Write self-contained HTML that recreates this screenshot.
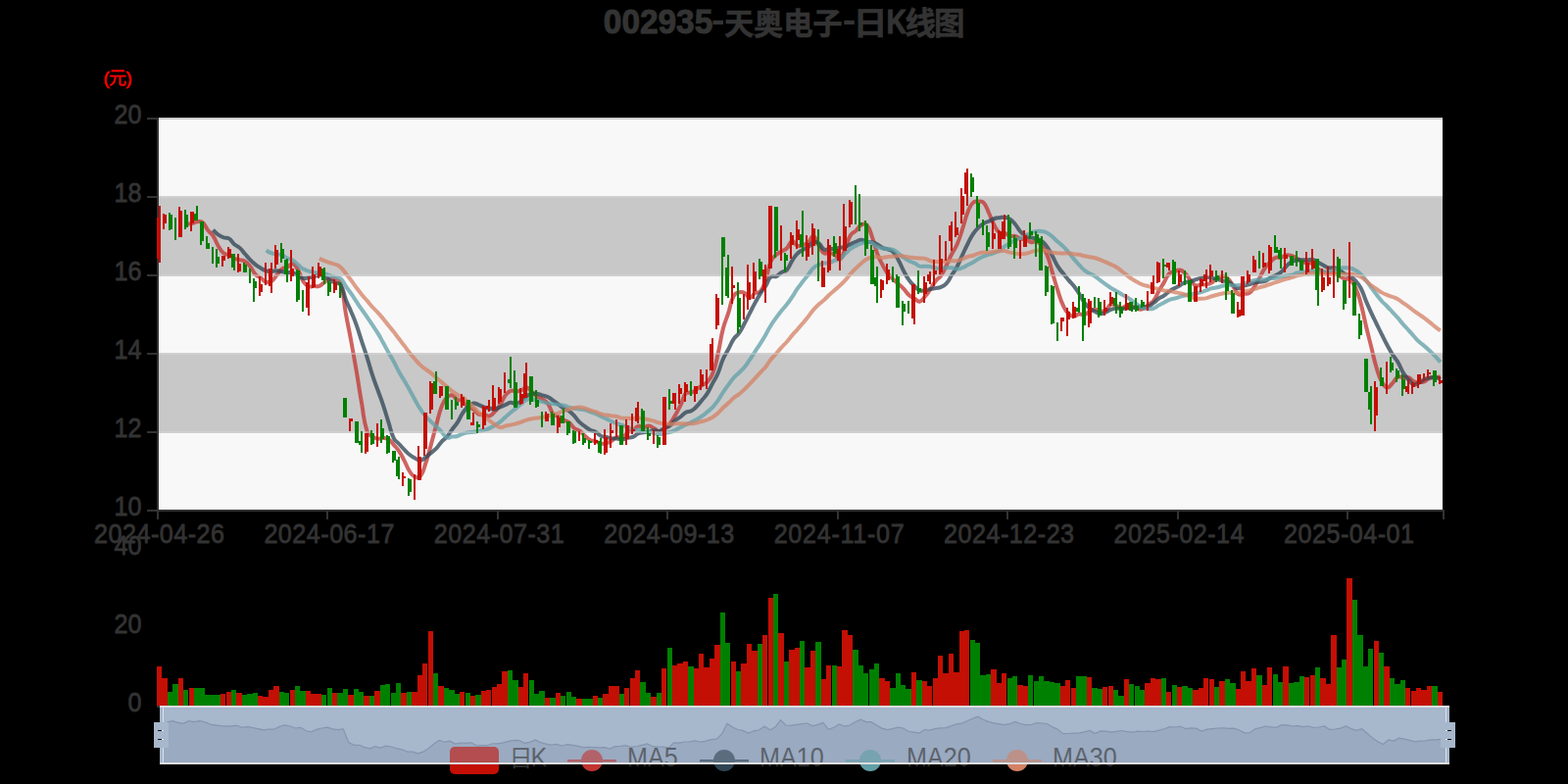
<!DOCTYPE html><html><head><meta charset="utf-8"><title>002935 K</title><style>html,body{margin:0;padding:0;background:#000;}svg{display:block}text{font-family:"Liberation Sans",sans-serif;}</style></head><body>
<svg width="1600" height="800" viewBox="0 0 1600 800">
<rect width="1600" height="800" fill="#000"/>
<defs><clipPath id="gc"><rect x="160" y="119" width="1312" height="403"/></clipPath><clipPath id="zin"><rect x="0" y="700" width="1600" height="80"/></clipPath><clipPath id="zout"><rect x="0" y="780" width="1600" height="20"/></clipPath></defs>
<g shape-rendering="crispEdges">
<rect x="161" y="122" width="1311" height="78" fill="#f8f8f8"/>
<rect x="161" y="200" width="1311" height="82" fill="#c8c8c8"/>
<rect x="161" y="282" width="1311" height="78" fill="#f8f8f8"/>
<rect x="161" y="360" width="1311" height="82" fill="#c8c8c8"/>
<rect x="161" y="442" width="1311" height="79" fill="#f8f8f8"/>
<rect x="161" y="120" width="1311" height="2" fill="#cccccc"/>
</g>
<g clip-path="url(#gc)" fill="none" stroke-width="4" stroke-opacity="0.77" stroke-linejoin="bevel">
<path d="M190.31,228.50C190.31,228.50 193.08,228.51 195.73,227.96C198.50,227.39 198.38,226.54 201.15,226.26C203.81,225.99 204.61,225.32 206.57,226.86C210.03,229.57 209.04,231.00 211.99,234.76C214.46,237.90 215.23,237.34 217.41,240.66C220.65,245.56 219.76,246.16 222.84,251.20C225.18,255.03 224.93,255.70 228.26,258.40C230.35,260.10 231.17,258.77 233.68,260.00C236.59,261.42 236.18,262.32 239.10,263.70C241.60,264.87 241.83,264.33 244.52,265.10C247.25,265.88 247.61,265.31 249.94,266.80C253.03,268.76 253.02,269.10 255.37,272.00C258.44,275.80 257.50,276.69 260.79,280.20C262.92,282.49 263.59,281.77 266.21,283.60C269.01,285.57 268.62,286.86 271.63,287.80C274.04,288.56 274.91,288.42 277.05,287.00C280.33,284.82 279.74,283.78 282.47,280.60C285.16,277.48 284.71,276.81 287.89,274.40C290.13,272.71 290.73,273.66 293.32,272.40C296.15,271.01 296.40,268.43 298.74,269.10C301.82,269.98 302.03,271.93 304.16,275.50C307.45,281.03 306.10,281.97 309.58,287.30C311.52,290.27 311.90,290.73 315.00,292.10C317.32,293.13 317.71,292.17 320.42,292.10C323.14,292.02 323.41,292.74 325.85,291.80C328.84,290.64 328.48,289.73 331.27,287.90C333.90,286.18 333.78,285.51 336.69,284.70C339.20,284.01 339.75,283.88 342.11,284.90C345.17,286.23 346.54,286.15 347.53,289.40C351.96,303.85 350.12,304.87 352.95,320.30C355.54,334.42 355.77,334.38 358.37,348.50C361.20,363.83 361.19,363.83 363.80,379.20C366.61,395.78 366.28,395.84 369.22,412.40C371.70,426.39 370.36,427.20 374.64,440.30C375.78,443.80 376.98,443.53 380.06,445.60C382.40,447.18 382.70,447.27 385.48,447.60C388.12,447.92 388.22,446.73 390.90,446.90C393.65,447.08 394.05,446.85 396.32,448.30C399.47,450.30 399.17,450.93 401.75,453.80C404.59,456.98 404.81,456.86 407.17,460.40C410.23,465.01 410.00,465.18 412.59,470.10C415.42,475.48 414.71,475.97 418.01,481.00C420.13,484.22 420.24,485.13 423.43,486.60C425.66,487.63 427.34,487.90 428.85,486.00C432.76,481.10 432.01,479.66 434.27,473.00C437.43,463.71 437.06,463.57 439.70,454.10C442.48,444.12 442.34,444.08 445.12,434.10C447.76,424.58 447.06,424.28 450.54,415.10C452.48,409.98 452.41,409.33 455.96,405.50C457.83,403.48 458.94,402.84 461.38,403.40C464.37,404.09 463.73,406.56 466.80,408.00C469.16,409.11 470.11,407.12 472.23,408.50C475.54,410.67 474.46,412.42 477.65,415.10C479.88,416.97 480.66,415.91 483.07,417.60C486.08,419.71 485.35,421.17 488.49,422.70C490.78,423.82 491.26,422.44 493.91,422.90C496.68,423.39 496.90,425.21 499.33,424.60C502.32,423.86 502.34,422.69 504.75,420.20C507.76,417.09 507.80,417.03 510.18,413.40C513.23,408.74 512.31,408.05 515.60,403.62C517.73,400.75 517.92,400.06 521.02,398.80C523.34,397.85 523.74,399.30 526.44,399.20C529.16,399.10 529.34,399.33 531.86,398.40C534.76,397.34 534.75,394.87 537.28,395.22C540.17,395.62 540.01,397.54 542.70,399.90C545.43,402.29 545.18,402.65 548.13,404.72C550.60,406.46 551.00,405.87 553.55,407.52C556.42,409.37 556.98,409.02 558.97,411.72C562.40,416.36 560.85,417.76 564.39,422.20C566.27,424.55 567.12,423.71 569.81,425.30C572.55,426.91 572.45,427.09 575.23,428.60C577.87,430.04 578.32,429.39 580.66,431.20C583.74,433.59 583.00,434.59 586.08,437.00C588.42,438.84 589.07,437.95 591.50,439.70C594.49,441.85 594.10,442.38 596.92,444.80C599.52,447.03 599.35,447.48 602.34,449.00C604.77,450.23 605.12,449.45 607.76,450.30C610.54,451.20 610.37,451.96 613.18,452.50C615.79,453.01 616.03,453.02 618.61,452.40C621.45,451.72 621.46,451.39 624.03,449.90C626.88,448.24 626.49,446.89 629.45,446.10C631.91,445.44 632.65,448.00 634.87,447.00C638.07,445.55 637.13,443.39 640.29,441.20C642.55,439.64 643.31,440.90 645.71,439.50C648.73,437.75 648.10,435.80 651.13,434.90C653.52,434.20 653.87,436.38 656.56,436.30C659.29,436.21 659.34,434.37 661.98,434.56C664.76,434.77 664.75,435.72 667.40,437.10C670.17,438.54 670.02,439.97 672.82,440.20C675.44,440.42 675.94,439.70 678.24,438.00C681.36,435.70 681.30,435.37 683.66,432.20C686.72,428.11 686.52,427.92 689.09,423.48C691.94,418.54 692.02,418.57 694.51,413.44C697.44,407.40 696.07,405.70 699.93,401.14C701.49,399.30 702.86,401.54 705.35,400.64C708.28,399.59 708.11,399.02 710.77,397.24C713.53,395.40 713.45,395.28 716.19,393.40C718.88,391.56 719.45,392.15 721.61,389.80C724.88,386.25 725.28,386.13 727.04,381.60C730.70,372.13 730.12,371.79 732.46,361.80C735.54,348.64 734.55,348.38 737.88,335.30C739.97,327.08 740.68,327.28 743.30,319.20C746.11,310.53 744.72,309.52 748.72,301.80C750.14,299.07 751.20,299.11 754.14,298.30C756.62,297.61 757.29,297.60 759.57,298.80C762.71,300.45 762.24,303.92 764.99,304.00C767.66,304.07 767.36,300.96 770.41,299.10C772.78,297.66 774.17,299.45 775.83,297.40C779.59,292.75 779.12,291.77 781.25,285.70C784.54,276.32 782.86,275.51 786.67,266.50C788.28,262.71 789.03,262.90 792.09,260.10C794.45,257.95 794.79,258.33 797.52,256.60C800.21,254.88 800.67,255.39 802.94,253.20C806.10,250.14 805.35,246.77 808.36,246.10C810.77,245.57 810.71,249.72 813.78,250.80C816.13,251.62 816.58,250.67 819.20,249.90C822.01,249.07 822.40,249.41 824.62,247.60C827.82,245.01 827.66,240.48 830.04,241.10C833.08,241.88 832.60,245.85 835.47,250.40C838.02,254.45 837.43,255.91 840.89,258.30C842.85,259.66 843.70,257.47 846.31,257.90C849.12,258.37 849.25,258.61 851.73,260.10C854.67,261.86 855.20,265.61 857.15,264.40C860.62,262.26 860.09,259.00 862.57,253.40C865.52,246.75 864.34,245.96 867.99,239.90C869.76,236.96 870.87,237.82 873.42,235.40C876.29,232.67 875.62,231.38 878.84,229.60C881.04,228.38 882.65,227.70 884.26,229.40C888.08,233.45 887.43,235.07 889.68,241.10C892.86,249.62 891.94,249.97 895.10,258.50C897.36,264.57 897.53,264.55 900.52,270.30C902.95,274.95 902.83,275.11 905.95,279.30C908.25,282.41 908.57,282.19 911.37,284.90C913.99,287.44 914.09,287.34 916.79,289.80C919.51,292.29 919.69,292.12 922.21,294.80C925.11,297.90 924.49,298.59 927.63,301.36C929.92,303.37 930.37,302.80 933.05,304.36C935.80,305.95 935.98,308.07 938.47,307.66C941.40,307.17 941.47,305.36 943.90,302.56C946.89,299.11 946.73,298.94 949.32,295.16C952.15,291.01 951.65,290.62 954.74,286.70C957.07,283.74 958.01,284.47 960.16,281.40C963.43,276.72 963.02,276.37 965.58,271.20C968.44,265.42 968.09,265.25 971.00,259.50C973.51,254.55 974.21,254.88 976.42,249.80C979.64,242.43 979.31,242.26 981.85,234.60C984.73,225.91 983.93,225.59 987.27,217.10C989.35,211.79 989.05,210.86 992.69,207.00C994.47,205.11 995.38,205.70 998.11,205.60C1000.80,205.50 1001.80,204.78 1003.53,206.60C1007.22,210.48 1006.44,211.71 1008.95,217.00C1011.86,223.11 1011.20,223.46 1014.38,229.40C1016.62,233.61 1016.34,234.59 1019.80,237.30C1021.76,238.84 1022.67,237.08 1025.22,237.90C1028.09,238.83 1027.76,240.00 1030.64,240.80C1033.18,241.50 1033.50,240.24 1036.06,240.90C1038.92,241.64 1038.64,242.68 1041.48,243.60C1044.06,244.43 1044.34,243.55 1046.90,244.40C1049.76,245.35 1049.47,246.65 1052.33,247.20C1054.89,247.70 1055.40,245.64 1057.75,246.50C1060.82,247.64 1061.01,248.39 1063.17,251.20C1066.43,255.44 1066.61,255.59 1068.59,260.60C1072.03,269.29 1071.30,269.60 1074.01,278.60C1076.72,287.60 1076.51,287.67 1079.43,296.60C1081.93,304.22 1081.50,304.47 1084.86,311.70C1086.93,316.17 1086.93,316.54 1090.28,320.00C1092.35,322.14 1092.94,322.77 1095.70,322.90C1098.36,323.02 1098.29,321.00 1101.12,320.50C1103.71,320.05 1104.04,321.65 1106.54,321.00C1109.46,320.25 1109.12,319.09 1111.96,317.70C1114.55,316.44 1114.66,315.75 1117.38,315.70C1120.08,315.65 1120.04,317.27 1122.81,317.50C1125.46,317.72 1126.02,317.98 1128.23,316.60C1131.44,314.58 1130.44,312.12 1133.65,310.70C1135.86,309.72 1136.45,310.96 1139.07,311.80C1141.87,312.71 1141.80,314.25 1144.49,314.20C1147.22,314.15 1147.07,312.10 1149.91,311.60C1152.49,311.15 1152.77,311.47 1155.33,312.30C1158.19,313.22 1157.89,314.33 1160.76,315.10C1163.31,315.78 1163.77,316.09 1166.18,315.20C1169.19,314.09 1168.90,313.17 1171.60,311.10C1174.32,309.02 1174.97,309.56 1177.02,306.90C1180.39,302.51 1179.62,301.89 1182.44,297.00C1185.04,292.49 1185.17,292.56 1187.86,288.10C1190.60,283.56 1189.78,282.59 1193.29,279.00C1195.20,277.04 1195.96,277.89 1198.71,277.00C1201.38,276.14 1201.61,275.01 1204.13,275.50C1207.04,276.06 1207.28,276.84 1209.55,279.10C1212.70,282.24 1211.99,282.95 1214.97,286.30C1217.41,289.05 1217.29,290.13 1220.39,291.30C1222.71,292.18 1223.09,290.68 1225.81,290.40C1228.51,290.13 1228.61,290.73 1231.24,290.20C1234.03,289.63 1234.23,289.68 1236.66,288.20C1239.65,286.38 1239.08,285.40 1242.08,283.60C1244.50,282.15 1244.83,281.58 1247.50,281.70C1250.25,281.83 1250.87,282.12 1252.92,284.10C1256.29,287.35 1255.64,288.12 1258.34,292.16C1261.06,296.22 1260.28,297.88 1263.76,300.30C1265.71,301.65 1266.48,300.02 1269.19,299.70C1271.90,299.37 1272.47,300.40 1274.61,299.00C1277.89,296.85 1277.67,296.05 1280.03,292.60C1283.09,288.12 1282.77,287.89 1285.45,283.14C1288.19,278.29 1287.74,277.97 1290.87,273.40C1293.16,270.05 1293.37,270.13 1296.29,267.30C1298.79,264.88 1298.66,264.17 1301.72,262.90C1304.08,261.92 1304.56,263.42 1307.14,262.80C1309.98,262.12 1309.73,260.77 1312.56,260.30C1315.15,259.87 1315.40,260.21 1317.98,261.00C1320.82,261.86 1320.82,262.08 1323.40,263.60C1326.24,265.28 1325.85,266.17 1328.82,267.40C1331.27,268.42 1331.56,267.60 1334.24,268.10C1336.98,268.60 1337.32,268.06 1339.67,269.40C1342.74,271.16 1342.22,272.05 1345.09,274.30C1347.64,276.30 1347.59,276.58 1350.51,277.90C1353.01,279.03 1353.20,279.07 1355.93,279.20C1358.62,279.32 1358.84,277.82 1361.35,278.40C1364.26,279.07 1364.01,280.14 1366.77,281.70C1369.43,283.19 1369.35,283.50 1372.19,284.50C1374.77,285.40 1375.64,283.87 1377.62,285.50C1381.06,288.32 1381.05,289.08 1383.04,293.40C1386.48,300.88 1386.24,301.11 1388.46,309.10C1391.66,320.66 1391.07,320.82 1393.88,332.50C1396.49,343.37 1396.57,343.35 1399.30,354.20C1402.00,364.90 1401.52,365.06 1404.72,375.60C1406.94,382.91 1406.54,383.32 1410.14,389.90C1411.96,393.22 1412.72,395.11 1415.57,395.40C1418.14,395.66 1418.51,393.44 1420.99,391.00C1423.93,388.09 1423.13,386.48 1426.41,384.70C1428.55,383.53 1429.12,385.02 1431.83,385.10C1434.54,385.17 1434.86,384.09 1437.25,385.00C1440.28,386.14 1439.66,387.78 1442.67,389.20C1445.09,390.33 1445.38,390.07 1448.10,390.10C1450.80,390.12 1451.03,390.29 1453.52,389.30C1456.45,388.14 1456.00,386.91 1458.94,385.80C1461.42,384.86 1461.65,385.50 1464.36,385.20C1467.07,384.90 1469.78,384.60 1469.78,384.60" stroke="#c23531"/>
<path d="M217.41,234.58C217.41,234.58 219.86,237.46 222.84,239.58C225.29,241.33 225.42,241.32 228.26,242.33C230.84,243.25 231.45,242.01 233.68,243.43C236.87,245.46 236.13,246.64 239.10,249.23C241.55,251.36 242.11,250.71 244.52,252.88C247.54,255.59 247.24,255.93 249.94,259.00C252.66,262.09 252.49,262.26 255.37,265.20C257.91,267.81 257.91,267.86 260.79,270.10C263.34,272.09 263.42,272.01 266.21,273.65C268.84,275.19 268.76,275.59 271.63,276.45C274.19,277.22 274.34,276.94 277.05,276.90C279.77,276.86 279.78,276.20 282.47,276.30C285.20,276.40 285.17,276.87 287.89,277.30C290.59,277.72 290.60,277.71 293.32,278.00C296.02,278.29 296.18,277.68 298.74,278.45C301.60,279.31 301.44,279.87 304.16,281.25C306.86,282.62 306.73,283.42 309.58,283.95C312.15,284.42 312.30,283.67 315.00,283.25C317.72,282.82 317.76,282.94 320.42,282.25C323.18,281.54 323.10,280.59 325.85,280.45C328.52,280.31 328.85,280.46 331.27,281.70C334.27,283.24 333.78,284.17 336.69,286.00C339.20,287.57 339.38,287.30 342.11,288.50C344.80,289.68 346.09,288.42 347.53,290.75C351.51,297.19 349.97,298.51 352.95,306.05C355.39,312.23 355.81,312.07 358.37,318.20C361.23,325.02 361.32,324.99 363.80,331.95C366.74,340.22 366.47,340.31 369.22,348.65C371.89,356.76 372.06,356.71 374.64,364.85C377.49,373.86 377.13,373.97 380.06,382.95C382.55,390.57 382.76,390.50 385.48,398.05C388.18,405.55 388.37,405.49 390.90,413.05C393.79,421.64 393.57,421.71 396.32,430.35C398.99,438.71 398.03,439.28 401.75,447.05C403.45,450.61 404.44,450.04 407.17,453.00C409.87,455.94 409.78,456.02 412.59,458.85C415.21,461.49 415.11,461.65 418.01,463.95C420.53,465.95 420.61,465.90 423.43,467.45C426.03,468.88 426.22,470.08 428.85,469.90C431.64,469.71 431.73,468.53 434.27,466.70C437.15,464.63 436.98,464.39 439.70,462.10C442.40,459.82 442.67,460.09 445.12,457.55C448.09,454.46 447.63,454.02 450.54,450.85C453.05,448.12 453.55,448.56 455.96,445.75C458.97,442.24 458.62,441.94 461.38,438.20C464.05,434.59 464.39,434.82 466.80,431.05C469.81,426.37 469.11,425.89 472.23,421.30C474.53,417.91 474.61,417.83 477.65,415.10C480.03,412.95 480.17,412.10 483.07,411.55C485.59,411.07 485.85,412.10 488.49,413.05C491.27,414.05 491.11,414.54 493.91,415.45C496.53,416.29 496.62,416.00 499.33,416.55C502.04,417.10 502.12,417.91 504.75,417.65C507.54,417.38 507.48,416.62 510.18,415.50C512.90,414.37 512.88,414.32 515.60,413.16C518.31,412.00 518.22,411.18 521.02,410.85C523.64,410.55 523.85,412.27 526.44,411.90C529.27,411.50 529.43,411.01 531.86,409.30C534.85,407.21 534.29,406.39 537.28,404.31C539.71,402.62 539.86,402.43 542.70,401.76C545.28,401.15 545.47,401.37 548.13,401.76C550.89,402.17 550.84,402.54 553.55,403.36C556.27,404.19 556.45,403.82 558.97,405.06C561.87,406.49 561.71,406.84 564.39,408.71C567.13,410.61 567.12,410.63 569.81,412.60C572.54,414.60 572.37,414.88 575.23,416.66C577.79,418.26 578.21,417.62 580.66,419.36C583.63,421.47 583.56,421.67 586.08,424.36C588.99,427.47 588.48,427.97 591.50,430.95C593.90,433.32 594.17,433.06 596.92,435.05C599.59,436.98 599.45,437.28 602.34,438.80C604.87,440.13 605.26,439.38 607.76,440.75C610.69,442.35 610.22,443.30 613.18,444.75C615.64,445.95 615.90,445.40 618.61,446.05C621.32,446.70 621.28,446.97 624.03,447.35C626.70,447.72 626.76,447.23 629.45,447.55C632.19,447.88 632.20,448.82 634.87,448.65C637.62,448.47 637.53,447.54 640.29,446.85C642.95,446.19 643.23,446.97 645.71,445.95C648.65,444.75 648.22,443.68 651.13,442.40C653.64,441.30 653.82,441.61 656.56,441.20C659.24,440.80 659.32,441.28 661.98,440.78C664.74,440.26 664.64,439.39 667.40,439.15C670.06,438.92 670.32,440.47 672.82,439.85C675.74,439.12 675.41,437.91 678.24,436.45C680.83,435.11 681.29,435.87 683.66,434.25C686.72,432.16 686.19,431.41 689.09,429.02C691.62,426.92 691.90,427.28 694.51,425.27C697.32,423.10 696.89,422.34 699.93,420.67C702.31,419.36 702.96,420.63 705.35,419.32C708.39,417.65 708.27,417.23 710.77,414.72C713.69,411.79 713.55,411.63 716.19,408.44C718.97,405.08 719.29,405.28 721.61,401.62C724.71,396.75 724.31,396.49 727.04,391.37C729.74,386.29 730.18,386.49 732.46,381.22C735.60,373.94 734.72,373.54 737.88,366.27C740.14,361.08 740.64,361.31 743.30,356.30C746.07,351.08 745.49,350.68 748.72,345.80C750.91,342.51 751.87,343.20 754.14,339.95C757.29,335.45 756.96,335.18 759.57,330.30C762.38,325.03 762.26,324.97 764.99,319.65C767.68,314.39 767.60,314.35 770.41,309.15C773.02,304.32 772.90,304.23 775.83,299.60C778.32,295.66 778.74,295.93 781.25,292.00C784.16,287.45 783.07,285.96 786.67,282.65C788.49,280.98 789.69,283.11 792.09,282.05C795.11,280.71 794.62,279.65 797.52,277.85C800.04,276.28 801.01,277.43 802.94,275.30C806.43,271.45 805.40,270.44 808.36,265.90C810.82,262.11 810.63,261.82 813.78,258.65C816.05,256.37 816.41,256.69 819.20,255.00C821.83,253.41 822.15,253.89 824.62,252.10C827.57,249.96 826.95,248.25 830.04,247.15C832.37,246.32 833.30,246.77 835.47,248.25C838.72,250.47 837.62,252.85 840.89,254.55C843.04,255.67 843.59,254.08 846.31,253.90C849.01,253.73 849.05,254.13 851.73,253.85C854.47,253.56 854.43,253.24 857.15,252.75C859.85,252.26 860.01,252.76 862.57,251.90C865.43,250.94 865.25,250.43 867.99,249.10C870.67,247.80 870.65,247.73 873.42,246.65C876.07,245.61 876.15,244.79 878.84,244.85C881.57,244.91 881.46,246.28 884.26,246.90C886.88,247.48 887.05,246.69 889.68,247.25C892.47,247.84 892.56,247.89 895.10,249.20C897.98,250.69 897.62,251.44 900.52,252.85C903.04,254.07 903.33,253.41 905.95,254.45C908.75,255.56 909.31,255.06 911.37,257.15C914.73,260.56 914.38,261.13 916.79,265.45C919.81,270.88 919.29,271.16 922.21,276.65C924.71,281.35 924.55,281.51 927.63,285.83C929.97,289.10 930.15,289.03 933.05,291.83C935.57,294.26 935.42,295.05 938.47,296.28C940.84,297.23 941.22,296.50 943.90,296.18C946.64,295.85 946.59,295.52 949.32,294.98C952.02,294.44 952.04,294.55 954.74,294.03C957.46,293.50 957.65,293.95 960.16,292.88C963.07,291.65 963.46,291.75 965.58,289.43C968.88,285.82 968.31,285.24 971.00,281.03C973.73,276.77 974.05,276.94 976.42,272.48C979.47,266.75 979.09,266.55 981.85,260.65C984.52,254.93 984.43,254.89 987.27,249.25C989.85,244.11 989.57,243.90 992.69,239.10C994.99,235.55 995.13,235.55 998.11,232.55C1000.55,230.10 1000.61,230.02 1003.53,228.20C1006.03,226.65 1006.26,227.03 1008.95,225.80C1011.68,224.56 1011.56,224.20 1014.38,223.25C1016.98,222.37 1017.06,222.53 1019.80,222.15C1022.48,221.78 1022.59,221.37 1025.22,221.75C1028.01,222.15 1028.29,222.14 1030.64,223.70C1033.71,225.74 1033.63,226.08 1036.06,228.95C1039.05,232.48 1038.38,233.10 1041.48,236.50C1043.80,239.05 1043.92,239.19 1046.90,240.85C1049.34,242.21 1049.58,241.84 1052.33,242.55C1055.00,243.24 1055.13,242.81 1057.75,243.65C1060.55,244.56 1060.88,244.27 1063.17,246.05C1066.30,248.49 1066.27,248.79 1068.59,252.10C1071.69,256.52 1071.41,256.74 1074.01,261.50C1076.83,266.64 1076.37,266.92 1079.43,271.90C1081.79,275.72 1082.06,275.57 1084.86,279.10C1087.48,282.42 1087.52,282.39 1090.28,285.60C1092.94,288.71 1093.19,288.52 1095.70,291.75C1098.61,295.49 1098.57,295.55 1101.12,299.55C1103.99,304.07 1103.44,304.46 1106.54,308.80C1108.86,312.04 1108.92,312.16 1111.96,314.70C1114.34,316.69 1114.59,316.43 1117.38,317.85C1120.01,319.18 1120.04,320.02 1122.81,320.20C1125.46,320.37 1125.61,319.60 1128.23,318.55C1131.03,317.43 1130.82,316.84 1133.65,315.85C1136.24,314.94 1136.33,314.98 1139.07,314.75C1141.75,314.53 1141.78,315.00 1144.49,314.95C1147.21,314.90 1147.20,314.68 1149.91,314.55C1152.62,314.43 1152.68,314.85 1155.33,314.45C1158.10,314.03 1158.00,313.14 1160.76,312.90C1163.42,312.67 1163.47,313.56 1166.18,313.50C1168.90,313.44 1169.10,313.63 1171.60,312.65C1174.52,311.51 1174.45,311.14 1177.02,309.25C1179.87,307.14 1179.55,306.69 1182.44,304.65C1184.97,302.87 1185.32,303.37 1187.86,301.60C1190.74,299.60 1190.41,299.10 1193.29,297.10C1195.83,295.33 1195.97,295.54 1198.71,294.05C1201.40,292.59 1201.45,292.68 1204.13,291.20C1206.87,289.68 1206.66,289.12 1209.55,288.05C1212.08,287.12 1212.33,287.91 1214.97,287.20C1217.76,286.46 1217.64,286.04 1220.39,285.15C1223.06,284.29 1223.07,284.28 1225.81,283.70C1228.49,283.13 1228.52,282.86 1231.24,282.85C1233.94,282.84 1233.97,283.13 1236.66,283.65C1239.39,284.18 1239.38,284.24 1242.08,284.95C1244.80,285.67 1244.75,285.92 1247.50,286.50C1250.17,287.07 1250.48,286.20 1252.92,287.25C1255.90,288.54 1255.53,289.37 1258.34,291.18C1260.96,292.87 1261.01,294.13 1263.76,294.25C1266.43,294.37 1266.37,292.66 1269.19,291.65C1271.79,290.71 1271.95,291.16 1274.61,290.35C1277.37,289.51 1277.24,289.04 1280.03,288.35C1282.66,287.69 1282.74,288.02 1285.45,287.65C1288.16,287.27 1288.37,287.81 1290.87,286.85C1293.79,285.73 1293.50,285.02 1296.29,283.50C1298.92,282.07 1299.08,282.36 1301.72,280.95C1304.50,279.46 1304.76,279.73 1307.14,277.70C1310.18,275.11 1309.67,274.52 1312.56,271.72C1315.09,269.27 1314.98,268.93 1317.98,267.20C1320.40,265.80 1320.63,265.97 1323.40,265.45C1326.05,264.95 1326.11,265.15 1328.82,265.15C1331.53,265.15 1331.54,265.52 1334.24,265.45C1336.96,265.37 1337.11,264.33 1339.67,264.85C1342.53,265.43 1342.41,266.19 1345.09,267.65C1347.83,269.14 1347.74,269.31 1350.51,270.75C1353.16,272.13 1353.08,272.64 1355.93,273.30C1358.51,273.89 1358.75,272.71 1361.35,273.25C1364.17,273.84 1364.23,274.11 1366.77,275.55C1369.65,277.18 1369.32,277.77 1372.19,279.40C1374.74,280.84 1375.16,280.14 1377.62,281.70C1380.58,283.59 1380.68,283.68 1383.04,286.30C1386.10,289.70 1386.34,289.69 1388.46,293.75C1391.77,300.09 1391.07,300.47 1393.88,307.10C1396.49,313.27 1396.49,313.27 1399.30,319.35C1401.91,325.00 1402.00,324.95 1404.72,330.55C1407.42,336.10 1407.38,336.12 1410.14,341.65C1412.81,346.97 1412.74,347.01 1415.57,352.25C1418.16,357.06 1418.07,357.13 1420.99,361.75C1423.50,365.73 1424.04,365.39 1426.41,369.45C1429.47,374.69 1428.70,375.16 1431.83,380.35C1434.13,384.16 1434.26,384.16 1437.25,387.45C1439.69,390.13 1439.63,391.43 1442.67,392.30C1445.06,392.98 1445.56,391.79 1448.10,390.55C1450.98,389.14 1450.62,388.36 1453.52,387.00C1456.04,385.81 1456.18,385.93 1458.94,385.45C1461.60,384.98 1461.72,384.75 1464.36,385.10C1467.14,385.47 1469.78,386.90 1469.78,386.90" stroke="#2f4554"/>
<path d="M271.63,255.52C271.63,255.52 274.21,257.25 277.05,258.24C279.64,259.15 279.76,258.78 282.47,259.31C285.18,259.85 285.37,259.36 287.89,260.37C290.79,261.51 290.49,262.23 293.32,263.62C295.91,264.88 296.29,264.19 298.74,265.67C301.71,267.45 301.45,267.90 304.16,270.12C306.87,272.35 306.62,272.78 309.58,274.57C312.04,276.06 312.23,275.81 315.00,276.68C317.65,277.50 317.68,277.50 320.42,277.95C323.10,278.39 323.14,278.11 325.85,278.45C328.57,278.79 328.61,278.64 331.27,279.30C334.04,279.99 333.97,280.25 336.69,281.15C339.39,282.05 339.38,282.09 342.11,282.90C344.80,283.70 345.52,282.64 347.53,284.38C350.95,287.32 350.19,288.35 352.95,292.25C355.62,296.02 355.75,295.93 358.37,299.73C361.17,303.78 361.06,303.85 363.80,307.95C366.48,311.97 366.46,311.98 369.22,315.95C371.88,319.78 371.99,319.71 374.64,323.55C377.41,327.58 377.35,327.62 380.06,331.70C382.77,335.79 382.93,335.69 385.48,339.88C388.36,344.60 388.22,344.69 390.90,349.52C393.64,354.46 393.57,354.50 396.32,359.43C398.99,364.19 399.16,364.10 401.75,368.90C404.58,374.15 404.28,374.31 407.17,379.52C409.71,384.12 409.92,384.00 412.59,388.52C415.35,393.21 415.37,393.20 418.01,397.95C420.79,402.96 420.64,403.05 423.43,408.05C426.06,412.76 425.93,412.85 428.85,417.38C431.35,421.24 431.29,421.33 434.27,424.82C436.72,427.68 436.98,427.45 439.70,430.07C442.40,432.69 442.42,432.68 445.12,435.30C447.84,437.94 447.89,437.89 450.54,440.60C453.31,443.44 452.75,444.92 455.96,446.40C458.18,447.42 458.67,445.96 461.38,445.60C464.09,445.24 464.20,445.67 466.80,444.95C469.62,444.18 469.44,443.57 472.23,442.62C474.86,441.73 474.90,441.76 477.65,441.27C480.32,440.81 480.37,441.07 483.07,440.73C485.79,440.37 485.79,440.36 488.49,439.88C491.21,439.39 491.24,439.47 493.91,438.77C496.66,438.06 496.72,438.14 499.33,437.05C502.14,435.88 502.13,435.80 504.75,434.25C507.56,432.59 507.62,432.64 510.18,430.62C513.05,428.36 512.86,428.12 515.60,425.68C518.28,423.29 518.26,423.26 521.02,420.95C523.68,418.72 523.74,418.78 526.44,416.60C529.16,414.41 529.14,414.38 531.86,412.20C534.56,410.05 534.25,409.27 537.28,407.93C539.67,406.87 540.02,407.24 542.70,407.41C545.44,407.58 545.42,407.97 548.13,408.61C550.85,409.24 550.84,409.27 553.55,409.96C556.26,410.64 556.23,410.81 558.97,411.36C561.65,411.89 561.68,411.72 564.39,412.11C567.10,412.49 567.11,412.47 569.81,412.88C572.53,413.29 572.58,413.08 575.23,413.75C578.00,414.46 577.90,414.85 580.66,415.63C583.32,416.39 583.35,416.33 586.08,416.83C588.77,417.33 588.79,417.24 591.50,417.63C594.21,418.02 594.27,417.76 596.92,418.41C599.69,419.08 599.62,419.36 602.34,420.28C605.04,421.19 605.15,420.94 607.76,422.06C610.57,423.25 610.44,423.56 613.18,424.91C615.86,426.22 615.91,426.12 618.61,427.38C621.33,428.65 621.27,428.78 624.03,429.98C626.70,431.14 626.72,431.09 629.45,432.11C632.14,433.11 632.14,433.12 634.87,434.00C637.56,434.87 637.69,434.54 640.29,435.61C643.11,436.76 642.84,437.62 645.71,438.45C648.26,439.18 648.46,438.34 651.13,438.73C653.88,439.12 653.82,439.49 656.56,440.00C659.24,440.51 659.29,440.28 661.98,440.76C664.71,441.26 664.68,441.40 667.40,441.95C670.10,442.49 670.11,442.96 672.82,442.95C675.53,442.94 675.53,442.41 678.24,441.90C680.95,441.39 681.02,441.65 683.66,440.90C686.44,440.11 686.44,440.02 689.09,438.84C691.86,437.60 691.79,437.44 694.51,436.06C697.22,434.68 697.19,434.62 699.93,433.31C702.61,432.02 702.68,432.18 705.35,430.86C708.11,429.50 708.11,429.49 710.77,427.96C713.53,426.37 713.58,426.43 716.19,424.61C719.01,422.64 718.97,422.58 721.61,420.39C724.39,418.08 724.57,418.23 727.04,415.61C729.99,412.46 729.96,412.37 732.46,408.83C735.38,404.70 735.06,404.47 737.88,400.26C740.48,396.38 740.53,396.42 743.30,392.66C745.95,389.06 745.78,388.89 748.72,385.53C751.20,382.71 751.47,382.96 754.14,380.31C756.89,377.59 757.11,377.78 759.57,374.81C762.53,371.22 762.36,371.06 764.99,367.19C767.79,363.05 767.67,362.97 770.41,358.79C773.10,354.69 773.20,354.76 775.83,350.61C778.62,346.20 778.63,346.20 781.25,341.69C784.05,336.86 783.74,336.67 786.67,331.94C789.16,327.91 789.30,327.99 792.09,324.16C794.72,320.56 794.74,320.56 797.52,317.07C800.16,313.76 800.36,313.91 802.94,310.55C805.78,306.84 805.74,306.80 808.36,302.93C811.16,298.76 810.92,298.59 813.78,294.48C816.34,290.79 816.44,290.86 819.20,287.32C821.86,283.93 821.98,284.03 824.62,280.62C827.40,277.05 826.85,276.47 830.04,273.38C832.27,271.22 832.60,271.39 835.47,270.12C838.02,269.00 838.13,269.15 840.89,268.60C843.56,268.07 843.69,268.64 846.31,267.98C849.11,267.27 849.00,266.85 851.73,265.85C854.42,264.87 854.80,265.53 857.15,264.02C860.22,262.06 859.85,261.45 862.57,258.90C865.27,256.37 865.05,256.07 867.99,253.88C870.47,252.03 870.64,252.21 873.42,250.82C876.06,249.51 876.06,249.45 878.84,248.47C881.48,247.55 881.51,247.21 884.26,247.03C886.94,246.85 887.27,246.67 889.68,247.75C892.69,249.10 892.13,250.33 895.10,251.88C897.55,253.15 897.78,252.80 900.52,253.38C903.20,253.94 903.24,253.76 905.95,254.15C908.66,254.54 908.90,253.92 911.37,254.95C914.32,256.18 914.13,256.74 916.79,258.68C919.56,260.70 919.40,260.92 922.21,262.88C924.82,264.70 924.79,264.81 927.63,266.24C930.22,267.54 930.46,267.06 933.05,268.34C935.88,269.73 935.56,270.68 938.47,271.59C940.98,272.37 941.19,271.59 943.90,271.72C946.61,271.84 946.64,271.66 949.32,272.09C952.07,272.53 951.99,273.04 954.74,273.44C957.41,273.83 957.45,273.70 960.16,273.67C962.87,273.63 962.87,273.40 965.58,273.29C968.29,273.18 968.33,272.93 971.00,273.24C973.75,273.56 973.71,274.56 976.42,274.56C979.14,274.56 979.25,274.21 981.85,273.24C984.67,272.19 984.57,271.92 987.27,270.54C989.99,269.14 990.03,269.20 992.69,267.69C995.45,266.12 995.34,265.92 998.11,264.37C1000.76,262.87 1000.73,262.74 1003.53,261.59C1006.15,260.52 1006.26,260.79 1008.95,259.92C1011.68,259.03 1011.70,259.08 1014.38,258.06C1017.12,257.02 1017.32,257.32 1019.80,255.79C1022.74,253.98 1022.38,253.41 1025.22,251.39C1027.80,249.56 1027.93,249.74 1030.64,248.09C1033.35,246.44 1033.22,246.17 1036.06,244.80C1038.64,243.56 1038.86,244.04 1041.48,242.88C1044.28,241.63 1044.15,241.33 1046.90,239.97C1049.57,238.67 1049.55,238.59 1052.33,237.55C1054.97,236.56 1054.98,236.34 1057.75,235.93C1060.40,235.53 1060.53,235.50 1063.17,235.93C1065.95,236.37 1066.12,236.33 1068.59,237.68C1071.55,239.28 1071.41,239.63 1074.01,241.82C1076.83,244.20 1076.67,244.38 1079.43,246.82C1082.09,249.17 1082.31,248.94 1084.86,251.40C1087.73,254.17 1087.69,254.23 1090.28,257.27C1093.11,260.60 1092.89,260.78 1095.70,264.12C1098.31,267.24 1098.33,267.23 1101.12,270.20C1103.76,273.01 1103.59,273.23 1106.54,275.68C1109.01,277.72 1109.17,277.56 1111.96,279.18C1114.59,280.70 1114.83,280.31 1117.38,281.95C1120.26,283.80 1120.06,284.10 1122.81,286.15C1125.48,288.14 1125.51,288.09 1128.23,290.02C1130.93,291.95 1130.85,292.09 1133.65,293.88C1136.27,295.54 1136.39,295.34 1139.07,296.93C1141.81,298.54 1141.73,298.69 1144.49,300.27C1147.15,301.80 1147.31,301.54 1149.91,303.15C1152.73,304.90 1152.62,305.07 1155.33,307.00C1158.05,308.93 1157.98,309.03 1160.76,310.85C1163.40,312.58 1163.29,312.93 1166.18,314.10C1168.71,315.13 1168.86,315.09 1171.60,315.25C1174.29,315.40 1174.50,315.57 1177.02,314.73C1179.92,313.75 1179.70,313.11 1182.44,311.60C1185.13,310.11 1185.15,310.15 1187.86,308.73C1190.57,307.31 1190.46,307.03 1193.29,305.93C1195.88,304.91 1196.01,305.26 1198.71,304.50C1201.43,303.73 1201.42,303.69 1204.13,302.88C1206.84,302.06 1206.81,301.96 1209.55,301.25C1212.23,300.55 1212.24,300.53 1214.97,300.05C1217.66,299.57 1217.70,299.79 1220.39,299.32C1223.12,298.85 1223.17,298.97 1225.81,298.18C1228.59,297.34 1228.51,297.06 1231.24,296.05C1233.93,295.05 1233.89,294.86 1236.66,294.15C1239.31,293.47 1239.40,293.86 1242.08,293.27C1244.82,292.68 1244.77,292.46 1247.50,291.80C1250.19,291.15 1250.19,290.80 1252.92,290.65C1255.61,290.50 1255.63,291.06 1258.34,291.19C1261.05,291.31 1261.12,291.58 1263.76,291.15C1266.54,290.70 1266.47,290.28 1269.19,289.43C1271.89,288.58 1271.90,288.60 1274.61,287.75C1277.32,286.90 1277.27,286.66 1280.03,286.02C1282.69,285.41 1282.73,285.44 1285.45,285.25C1288.15,285.06 1288.19,285.50 1290.87,285.25C1293.61,284.99 1293.56,284.61 1296.29,284.23C1298.99,283.85 1299.03,284.16 1301.72,283.73C1304.46,283.28 1304.41,283.05 1307.14,282.48C1309.84,281.91 1309.84,281.89 1312.56,281.45C1315.26,281.01 1315.36,281.43 1317.98,280.73C1320.78,279.98 1320.60,279.32 1323.40,278.55C1326.03,277.83 1326.11,278.16 1328.82,277.75C1331.54,277.34 1331.53,277.28 1334.24,276.90C1336.95,276.53 1336.97,276.16 1339.67,276.25C1342.39,276.34 1342.35,277.03 1345.09,277.25C1347.78,277.47 1347.80,277.16 1350.51,277.12C1353.22,277.09 1353.28,277.53 1355.93,277.12C1358.70,276.70 1358.65,276.34 1361.35,275.48C1364.08,274.60 1363.99,274.19 1366.77,273.63C1369.41,273.11 1369.48,273.32 1372.19,273.30C1374.90,273.29 1375.00,272.99 1377.62,273.57C1380.42,274.20 1380.51,274.32 1383.04,275.73C1385.93,277.33 1386.06,277.33 1388.46,279.60C1391.48,282.45 1391.31,282.68 1393.88,285.98C1396.73,289.63 1396.55,289.77 1399.30,293.50C1401.97,297.11 1401.97,297.11 1404.72,300.65C1407.39,304.09 1407.24,304.24 1410.14,307.48C1412.66,310.29 1412.93,310.04 1415.57,312.75C1418.36,315.62 1418.26,315.71 1420.99,318.65C1423.68,321.55 1423.80,321.45 1426.41,324.43C1429.22,327.64 1429.03,327.81 1431.83,331.02C1434.45,334.03 1434.58,333.92 1437.25,336.88C1440.00,339.92 1439.92,339.99 1442.67,343.02C1445.34,345.96 1445.20,346.12 1448.10,348.82C1450.63,351.19 1450.86,350.93 1453.52,353.18C1456.29,355.52 1456.30,355.51 1458.94,358.00C1461.72,360.61 1461.75,360.59 1464.36,363.38C1467.17,366.38 1469.78,369.57 1469.78,369.57" stroke="#61a0a8"/>
<path d="M325.85,263.83C325.85,263.83 328.55,264.96 331.27,266.06C333.97,267.15 333.93,267.27 336.69,268.21C339.35,269.11 339.52,268.68 342.11,269.74C344.94,270.91 345.24,270.68 347.53,272.66C350.67,275.37 350.31,275.84 352.95,279.13C355.73,282.58 355.73,282.59 358.37,286.15C361.15,289.88 361.01,289.98 363.80,293.70C366.44,297.24 366.42,297.26 369.22,300.67C371.84,303.86 371.94,303.78 374.64,306.92C377.36,310.09 377.25,310.19 380.06,313.28C382.68,316.17 382.85,316.01 385.48,318.88C388.27,321.93 388.28,321.93 390.90,325.12C393.70,328.51 393.57,328.62 396.32,332.05C398.99,335.36 399.12,335.26 401.75,338.60C404.54,342.15 404.42,342.24 407.17,345.83C409.84,349.33 409.91,349.28 412.59,352.77C415.33,356.34 415.22,356.42 418.01,359.95C420.64,363.27 420.64,363.27 423.43,366.45C426.07,369.46 425.95,369.59 428.85,372.33C431.38,374.72 431.51,374.59 434.27,376.70C436.93,378.73 437.11,378.51 439.70,380.62C442.53,382.92 442.34,383.15 445.12,385.53C447.76,387.80 447.86,387.68 450.54,389.90C453.28,392.17 453.24,392.22 455.96,394.52C458.67,396.81 458.56,396.95 461.38,399.08C463.98,401.04 464.03,401.00 466.80,402.70C469.45,404.32 469.71,403.94 472.23,405.73C475.13,407.79 474.98,408.02 477.65,410.40C480.40,412.87 480.41,412.86 483.07,415.43C485.83,418.11 485.63,418.33 488.49,420.90C491.06,423.21 491.15,423.12 493.91,425.20C496.57,427.20 496.63,427.12 499.33,429.05C502.05,430.99 501.96,431.13 504.75,432.95C507.38,434.66 507.31,435.61 510.18,436.10C512.73,436.53 512.88,435.42 515.60,434.79C518.30,434.16 518.31,434.18 521.02,433.58C523.73,432.98 523.77,433.12 526.44,432.38C529.19,431.63 529.17,431.56 531.86,430.62C534.59,429.66 534.53,429.46 537.28,428.59C539.95,427.74 539.96,427.71 542.70,427.17C545.38,426.64 545.41,426.77 548.13,426.44C550.83,426.10 550.87,426.29 553.55,425.82C556.29,425.34 556.25,425.15 558.97,424.52C561.67,423.90 561.73,424.10 564.39,423.32C567.16,422.50 567.09,422.28 569.81,421.32C572.51,420.38 572.54,420.46 575.23,419.52C577.96,418.56 577.89,418.35 580.66,417.52C583.32,416.72 583.34,416.74 586.08,416.25C588.76,415.78 588.80,415.51 591.50,415.60C594.22,415.70 594.28,415.87 596.92,416.62C599.70,417.41 599.59,417.76 602.34,418.67C605.01,419.56 605.11,419.29 607.76,420.22C610.53,421.19 610.38,421.66 613.18,422.49C615.81,423.26 615.90,422.95 618.61,423.42C621.32,423.89 621.31,423.97 624.03,424.37C626.73,424.77 626.79,424.46 629.45,425.02C632.21,425.60 632.10,426.17 634.87,426.64C637.52,427.08 637.58,426.73 640.29,426.84C643.00,426.95 643.01,427.18 645.71,427.07C648.43,426.96 648.43,426.36 651.13,426.40C653.85,426.45 653.85,426.78 656.56,427.25C659.28,427.73 659.28,427.70 661.98,428.30C664.71,428.90 664.72,428.85 667.40,429.65C670.15,430.47 670.04,430.90 672.82,431.54C675.46,432.14 675.53,431.81 678.24,432.13C680.96,432.45 680.95,432.77 683.66,432.82C686.37,432.87 686.37,432.51 689.09,432.34C691.79,432.18 691.80,432.12 694.51,432.16C697.22,432.21 697.22,432.50 699.93,432.52C702.64,432.55 702.65,432.49 705.35,432.26C708.07,432.02 708.11,432.13 710.77,431.57C713.53,431.00 713.48,430.76 716.19,429.99C718.90,429.23 719.01,429.52 721.61,428.51C724.43,427.41 724.47,427.37 727.04,425.76C729.90,423.95 729.94,423.93 732.46,421.67C735.36,419.07 735.05,418.72 737.88,416.02C740.47,413.55 740.67,413.76 743.30,411.32C746.09,408.74 745.82,408.42 748.72,405.97C751.24,403.85 751.56,404.25 754.14,402.19C756.98,399.93 756.93,399.85 759.57,397.34C762.35,394.68 762.31,394.63 764.99,391.86C767.73,389.02 767.73,389.02 770.41,386.12C773.15,383.15 773.08,383.09 775.83,380.12C778.50,377.23 778.77,377.46 781.25,374.41C784.20,370.78 783.75,370.42 786.67,366.77C789.17,363.65 789.45,363.87 792.09,360.86C794.87,357.68 794.70,357.53 797.52,354.39C800.12,351.49 800.35,351.70 802.94,348.79C805.77,345.59 805.58,345.43 808.36,342.17C811.00,339.08 811.10,339.16 813.78,336.09C816.52,332.96 816.52,332.97 819.20,329.79C821.94,326.54 821.98,326.56 824.62,323.23C827.40,319.73 827.15,319.52 830.04,316.12C832.57,313.17 832.61,313.17 835.47,310.54C838.03,308.18 838.30,308.48 840.89,306.14C843.72,303.58 843.52,303.35 846.31,300.74C848.94,298.28 849.02,298.37 851.73,296.00C854.44,293.64 854.52,293.73 857.15,291.28C859.94,288.69 860.01,288.74 862.57,285.92C865.43,282.77 865.16,282.52 867.99,279.35C870.58,276.45 870.64,276.49 873.42,273.77C876.06,271.17 876.01,271.10 878.84,268.70C881.44,266.49 881.33,266.23 884.26,264.55C886.75,263.13 886.88,263.12 889.68,262.50C892.30,261.92 892.40,262.03 895.10,262.13C897.82,262.24 897.82,262.95 900.52,262.93C903.24,262.91 903.22,262.35 905.95,262.05C908.64,261.75 908.66,261.97 911.37,261.73C914.09,261.49 914.07,261.15 916.79,261.08C919.49,261.02 919.52,261.12 922.21,261.47C924.94,261.82 924.90,262.13 927.63,262.49C930.32,262.86 930.34,262.69 933.05,262.93C935.77,263.16 935.76,263.20 938.47,263.44C941.18,263.68 941.30,263.22 943.90,263.89C946.72,264.62 946.50,265.46 949.32,266.24C951.92,266.97 952.02,266.72 954.74,266.93C957.44,267.13 957.46,267.18 960.16,267.06C962.88,266.94 962.86,266.68 965.58,266.44C968.29,266.21 968.29,266.22 971.00,266.13C973.71,266.04 973.78,266.50 976.42,266.08C979.20,265.63 979.19,265.38 981.85,264.38C984.61,263.33 984.47,262.91 987.27,261.98C989.89,261.10 990.04,261.57 992.69,260.76C995.46,259.91 995.34,259.50 998.11,258.66C1000.76,257.85 1000.79,257.74 1003.53,257.46C1006.21,257.19 1006.25,257.71 1008.95,257.56C1011.68,257.41 1011.66,257.19 1014.38,256.86C1017.08,256.53 1017.08,256.44 1019.80,256.24C1022.50,256.05 1022.56,255.74 1025.22,256.08C1027.98,256.42 1027.89,257.00 1030.64,257.61C1033.32,258.20 1033.35,258.08 1036.06,258.48C1038.77,258.87 1038.77,259.13 1041.48,259.19C1044.19,259.26 1044.25,259.26 1046.90,258.74C1049.67,258.21 1049.60,257.88 1052.33,257.09C1055.03,256.31 1054.99,256.07 1057.75,255.61C1060.41,255.17 1060.47,255.18 1063.17,255.29C1065.89,255.41 1065.92,255.49 1068.59,256.08C1071.34,256.69 1071.25,257.15 1074.01,257.69C1076.67,258.22 1076.72,258.04 1079.43,258.23C1082.14,258.41 1082.14,258.38 1084.86,258.43C1087.56,258.47 1087.58,258.22 1090.28,258.40C1093.00,258.59 1092.98,258.81 1095.70,259.17C1098.41,259.52 1098.45,259.31 1101.12,259.83C1103.87,260.37 1103.80,260.71 1106.54,261.30C1109.22,261.88 1109.26,261.70 1111.96,262.18C1114.68,262.67 1114.73,262.50 1117.38,263.23C1120.15,264.00 1120.12,264.15 1122.81,265.18C1125.54,266.23 1125.54,266.25 1128.23,267.40C1130.96,268.57 1130.96,268.57 1133.65,269.83C1136.38,271.12 1136.50,270.94 1139.07,272.52C1141.92,274.27 1141.84,274.44 1144.49,276.50C1147.26,278.65 1147.15,278.78 1149.91,280.93C1152.57,283.01 1152.52,283.10 1155.33,284.95C1157.94,286.67 1157.98,286.63 1160.76,288.08C1163.41,289.47 1163.39,289.56 1166.18,290.62C1168.81,291.61 1168.90,291.38 1171.60,292.18C1174.32,292.99 1174.27,293.16 1177.02,293.85C1179.70,294.52 1179.76,294.26 1182.44,294.90C1185.18,295.56 1185.11,295.92 1187.86,296.45C1190.53,296.96 1190.60,296.55 1193.29,296.98C1196.02,297.43 1195.98,297.65 1198.71,298.20C1201.41,298.74 1201.45,298.55 1204.13,299.17C1206.87,299.79 1206.90,299.75 1209.55,300.68C1212.32,301.65 1212.20,302.00 1214.97,302.97C1217.62,303.89 1217.63,304.00 1220.39,304.45C1223.06,304.88 1223.11,304.82 1225.81,304.73C1228.53,304.65 1228.59,304.70 1231.24,304.10C1234.01,303.47 1233.92,303.12 1236.66,302.28C1239.34,301.47 1239.36,301.51 1242.08,300.80C1244.78,300.09 1244.76,299.97 1247.50,299.45C1250.18,298.94 1250.20,298.87 1252.92,298.75C1255.62,298.63 1255.63,298.93 1258.34,298.98C1261.05,299.02 1261.11,299.34 1263.76,298.92C1266.54,298.48 1266.43,297.91 1269.19,297.25C1271.85,296.61 1271.92,296.92 1274.61,296.33C1277.34,295.74 1277.33,295.67 1280.03,294.90C1282.75,294.13 1282.73,294.05 1285.45,293.25C1288.15,292.46 1288.17,292.52 1290.87,291.72C1293.59,290.90 1293.59,290.90 1296.29,290.02C1299.01,289.13 1299.01,289.10 1301.72,288.18C1304.43,287.26 1304.41,287.21 1307.14,286.33C1309.83,285.47 1309.84,285.49 1312.56,284.70C1315.26,283.91 1315.28,283.98 1317.98,283.17C1320.70,282.35 1320.66,282.18 1323.40,281.43C1326.08,280.70 1326.10,280.79 1328.82,280.22C1331.52,279.65 1331.52,279.61 1334.24,279.17C1336.94,278.73 1336.96,278.40 1339.67,278.45C1342.38,278.50 1342.36,279.06 1345.09,279.38C1347.78,279.70 1347.80,279.52 1350.51,279.73C1353.22,279.95 1353.23,280.33 1355.93,280.25C1358.65,280.17 1358.62,279.59 1361.35,279.40C1364.05,279.21 1364.08,279.26 1366.77,279.48C1369.50,279.71 1369.48,280.25 1372.19,280.28C1374.90,280.31 1374.92,279.52 1377.62,279.60C1380.34,279.68 1380.38,279.89 1383.04,280.60C1385.81,281.34 1385.96,281.15 1388.46,282.52C1391.39,284.12 1391.26,284.41 1393.88,286.53C1396.68,288.80 1396.46,289.08 1399.30,291.28C1401.88,293.28 1402.02,293.10 1404.72,294.93C1407.44,296.77 1407.30,297.02 1410.14,298.63C1412.72,300.09 1412.81,299.96 1415.57,301.07C1418.23,302.14 1418.31,301.95 1420.99,303.01C1423.73,304.09 1423.86,303.90 1426.41,305.35C1429.28,306.98 1429.12,307.26 1431.83,309.17C1434.54,311.07 1434.59,311.00 1437.25,312.97C1440.01,315.00 1439.90,315.15 1442.67,317.17C1445.32,319.09 1445.40,318.97 1448.10,320.83C1450.83,322.72 1450.86,322.68 1453.52,324.67C1456.28,326.72 1456.25,326.76 1458.94,328.92C1461.67,331.11 1461.61,331.18 1464.36,333.35C1467.03,335.46 1469.78,337.47 1469.78,337.47" stroke="#d48265"/>
</g>
<rect x="161" y="200" width="1311" height="2" fill="#d8d8d8" opacity="0.45" shape-rendering="crispEdges"/>
<rect x="161" y="280" width="1311" height="2" fill="#d8d8d8" opacity="0.45" shape-rendering="crispEdges"/>
<rect x="161" y="360" width="1311" height="2" fill="#d8d8d8" opacity="0.45" shape-rendering="crispEdges"/>
<rect x="161" y="440" width="1311" height="2" fill="#d8d8d8" opacity="0.45" shape-rendering="crispEdges"/>
<rect x="160" y="120" width="2" height="402" fill="#333" shape-rendering="crispEdges"/>
<g clip-path="url(#gc)" shape-rendering="crispEdges">
<rect x="162" y="210" width="2" height="58" fill="#c40f04"/>
<rect x="160" y="222" width="4" height="42" fill="#c40f04"/>
<rect x="166" y="218" width="2" height="16" fill="#c40f04"/>
<rect x="166" y="219" width="4" height="9" fill="#c40f04"/>
<rect x="172" y="217" width="2" height="18" fill="#008000"/>
<rect x="172" y="219" width="4" height="15" fill="#008000"/>
<rect x="178" y="222" width="2" height="23" fill="#008000"/>
<rect x="182" y="211" width="2" height="31" fill="#c40f04"/>
<rect x="182" y="215" width="4" height="27" fill="#c40f04"/>
<rect x="188" y="214" width="2" height="20" fill="#008000"/>
<rect x="188" y="219" width="4" height="13" fill="#008000"/>
<rect x="194" y="216" width="2" height="20" fill="#c40f04"/>
<rect x="194" y="216" width="4" height="12" fill="#c40f04"/>
<rect x="200" y="210" width="2" height="15" fill="#008000"/>
<rect x="198" y="218" width="4" height="7" fill="#008000"/>
<rect x="204" y="226" width="2" height="24" fill="#008000"/>
<rect x="204" y="226" width="4" height="20" fill="#008000"/>
<rect x="210" y="241" width="2" height="13" fill="#008000"/>
<rect x="210" y="248" width="4" height="6" fill="#008000"/>
<rect x="216" y="252" width="2" height="17" fill="#008000"/>
<rect x="220" y="254" width="2" height="19" fill="#008000"/>
<rect x="220" y="262" width="4" height="7" fill="#008000"/>
<rect x="226" y="261" width="2" height="11" fill="#c40f04"/>
<rect x="226" y="261" width="4" height="5" fill="#c40f04"/>
<rect x="232" y="252" width="2" height="12" fill="#c40f04"/>
<rect x="232" y="254" width="4" height="9" fill="#c40f04"/>
<rect x="238" y="259" width="2" height="17" fill="#008000"/>
<rect x="236" y="259" width="4" height="14" fill="#008000"/>
<rect x="242" y="259" width="2" height="19" fill="#c40f04"/>
<rect x="242" y="269" width="4" height="8" fill="#c40f04"/>
<rect x="248" y="268" width="2" height="10" fill="#008000"/>
<rect x="248" y="270" width="4" height="8" fill="#008000"/>
<rect x="254" y="274" width="2" height="15" fill="#008000"/>
<rect x="258" y="284" width="2" height="24" fill="#008000"/>
<rect x="258" y="287" width="4" height="7" fill="#008000"/>
<rect x="264" y="282" width="2" height="20" fill="#c40f04"/>
<rect x="264" y="290" width="4" height="8" fill="#c40f04"/>
<rect x="270" y="268" width="2" height="23" fill="#c40f04"/>
<rect x="276" y="268" width="2" height="31" fill="#c40f04"/>
<rect x="274" y="274" width="4" height="18" fill="#c40f04"/>
<rect x="280" y="250" width="2" height="24" fill="#c40f04"/>
<rect x="280" y="255" width="4" height="15" fill="#c40f04"/>
<rect x="286" y="248" width="2" height="20" fill="#008000"/>
<rect x="286" y="254" width="4" height="10" fill="#008000"/>
<rect x="292" y="264" width="2" height="24" fill="#008000"/>
<rect x="290" y="265" width="4" height="15" fill="#008000"/>
<rect x="296" y="255" width="2" height="32" fill="#c40f04"/>
<rect x="296" y="274" width="4" height="8" fill="#c40f04"/>
<rect x="302" y="275" width="2" height="33" fill="#008000"/>
<rect x="302" y="276" width="4" height="30" fill="#008000"/>
<rect x="308" y="296" width="2" height="22" fill="#008000"/>
<rect x="314" y="282" width="2" height="40" fill="#c40f04"/>
<rect x="312" y="288" width="4" height="26" fill="#c40f04"/>
<rect x="318" y="272" width="2" height="22" fill="#c40f04"/>
<rect x="318" y="280" width="4" height="13" fill="#c40f04"/>
<rect x="324" y="268" width="2" height="16" fill="#c40f04"/>
<rect x="324" y="272" width="4" height="10" fill="#c40f04"/>
<rect x="330" y="273" width="2" height="17" fill="#008000"/>
<rect x="328" y="274" width="4" height="12" fill="#008000"/>
<rect x="334" y="286" width="2" height="16" fill="#008000"/>
<rect x="334" y="288" width="4" height="10" fill="#008000"/>
<rect x="340" y="285" width="2" height="14" fill="#c40f04"/>
<rect x="340" y="288" width="4" height="8" fill="#c40f04"/>
<rect x="346" y="288" width="2" height="16" fill="#008000"/>
<rect x="350" y="406" width="2" height="20" fill="#008000"/>
<rect x="350" y="406" width="4" height="20" fill="#008000"/>
<rect x="356" y="427" width="2" height="13" fill="#c40f04"/>
<rect x="356" y="427" width="4" height="3" fill="#c40f04"/>
<rect x="362" y="430" width="2" height="22" fill="#008000"/>
<rect x="362" y="430" width="4" height="22" fill="#008000"/>
<rect x="368" y="440" width="2" height="22" fill="#008000"/>
<rect x="366" y="450" width="4" height="4" fill="#008000"/>
<rect x="372" y="442" width="2" height="21" fill="#c40f04"/>
<rect x="372" y="442" width="4" height="19" fill="#c40f04"/>
<rect x="378" y="439" width="2" height="15" fill="#008000"/>
<rect x="378" y="442" width="4" height="11" fill="#008000"/>
<rect x="384" y="432" width="2" height="24" fill="#c40f04"/>
<rect x="388" y="428" width="2" height="24" fill="#008000"/>
<rect x="388" y="437" width="4" height="11" fill="#008000"/>
<rect x="394" y="444" width="2" height="19" fill="#008000"/>
<rect x="394" y="445" width="4" height="17" fill="#008000"/>
<rect x="400" y="460" width="2" height="12" fill="#008000"/>
<rect x="400" y="460" width="4" height="10" fill="#008000"/>
<rect x="406" y="466" width="2" height="23" fill="#008000"/>
<rect x="404" y="469" width="4" height="17" fill="#008000"/>
<rect x="410" y="482" width="2" height="14" fill="#c40f04"/>
<rect x="410" y="486" width="4" height="2" fill="#c40f04"/>
<rect x="416" y="488" width="2" height="18" fill="#008000"/>
<rect x="416" y="489" width="4" height="13" fill="#008000"/>
<rect x="422" y="484" width="2" height="26" fill="#c40f04"/>
<rect x="426" y="455" width="2" height="35" fill="#c40f04"/>
<rect x="426" y="466" width="4" height="24" fill="#c40f04"/>
<rect x="432" y="421" width="2" height="44" fill="#c40f04"/>
<rect x="432" y="421" width="4" height="37" fill="#c40f04"/>
<rect x="438" y="389" width="2" height="33" fill="#c40f04"/>
<rect x="438" y="391" width="4" height="27" fill="#c40f04"/>
<rect x="444" y="379" width="2" height="23" fill="#008000"/>
<rect x="442" y="389" width="4" height="13" fill="#008000"/>
<rect x="448" y="394" width="2" height="12" fill="#c40f04"/>
<rect x="448" y="394" width="4" height="10" fill="#c40f04"/>
<rect x="454" y="394" width="2" height="24" fill="#008000"/>
<rect x="454" y="394" width="4" height="24" fill="#008000"/>
<rect x="460" y="408" width="2" height="20" fill="#008000"/>
<rect x="464" y="405" width="2" height="13" fill="#008000"/>
<rect x="464" y="410" width="4" height="4" fill="#008000"/>
<rect x="470" y="402" width="2" height="14" fill="#c40f04"/>
<rect x="470" y="405" width="4" height="9" fill="#c40f04"/>
<rect x="476" y="408" width="2" height="20" fill="#008000"/>
<rect x="476" y="408" width="4" height="20" fill="#008000"/>
<rect x="482" y="421" width="2" height="13" fill="#c40f04"/>
<rect x="480" y="431" width="4" height="3" fill="#c40f04"/>
<rect x="486" y="430" width="2" height="12" fill="#008000"/>
<rect x="486" y="433" width="4" height="3" fill="#008000"/>
<rect x="492" y="414" width="2" height="24" fill="#c40f04"/>
<rect x="492" y="415" width="4" height="19" fill="#c40f04"/>
<rect x="498" y="408" width="2" height="12" fill="#c40f04"/>
<rect x="496" y="414" width="4" height="3" fill="#c40f04"/>
<rect x="502" y="393" width="2" height="26" fill="#c40f04"/>
<rect x="502" y="406" width="4" height="12" fill="#c40f04"/>
<rect x="508" y="395" width="2" height="17" fill="#c40f04"/>
<rect x="508" y="397" width="4" height="13" fill="#c40f04"/>
<rect x="514" y="380" width="2" height="21" fill="#c40f04"/>
<rect x="520" y="364" width="2" height="32" fill="#008000"/>
<rect x="518" y="387" width="4" height="4" fill="#008000"/>
<rect x="524" y="378" width="2" height="38" fill="#008000"/>
<rect x="524" y="390" width="4" height="26" fill="#008000"/>
<rect x="530" y="396" width="2" height="17" fill="#c40f04"/>
<rect x="530" y="402" width="4" height="10" fill="#c40f04"/>
<rect x="536" y="370" width="2" height="36" fill="#c40f04"/>
<rect x="534" y="381" width="4" height="25" fill="#c40f04"/>
<rect x="540" y="384" width="2" height="29" fill="#008000"/>
<rect x="540" y="384" width="4" height="26" fill="#008000"/>
<rect x="546" y="398" width="2" height="18" fill="#008000"/>
<rect x="546" y="408" width="4" height="7" fill="#008000"/>
<rect x="552" y="420" width="2" height="16" fill="#008000"/>
<rect x="556" y="420" width="2" height="10" fill="#c40f04"/>
<rect x="556" y="422" width="4" height="8" fill="#c40f04"/>
<rect x="562" y="420" width="2" height="14" fill="#008000"/>
<rect x="562" y="422" width="4" height="12" fill="#008000"/>
<rect x="568" y="424" width="2" height="18" fill="#c40f04"/>
<rect x="568" y="426" width="4" height="10" fill="#c40f04"/>
<rect x="574" y="417" width="2" height="15" fill="#008000"/>
<rect x="572" y="424" width="4" height="8" fill="#008000"/>
<rect x="578" y="430" width="2" height="14" fill="#008000"/>
<rect x="578" y="430" width="4" height="12" fill="#008000"/>
<rect x="584" y="439" width="2" height="14" fill="#008000"/>
<rect x="584" y="440" width="4" height="12" fill="#008000"/>
<rect x="590" y="440" width="2" height="10" fill="#c40f04"/>
<rect x="594" y="442" width="2" height="12" fill="#008000"/>
<rect x="594" y="447" width="4" height="5" fill="#008000"/>
<rect x="600" y="449" width="2" height="9" fill="#008000"/>
<rect x="600" y="450" width="4" height="2" fill="#008000"/>
<rect x="606" y="442" width="2" height="12" fill="#c40f04"/>
<rect x="606" y="449" width="4" height="3" fill="#c40f04"/>
<rect x="612" y="447" width="2" height="16" fill="#008000"/>
<rect x="610" y="450" width="4" height="12" fill="#008000"/>
<rect x="616" y="438" width="2" height="26" fill="#c40f04"/>
<rect x="616" y="446" width="4" height="16" fill="#c40f04"/>
<rect x="622" y="432" width="2" height="25" fill="#c40f04"/>
<rect x="622" y="439" width="4" height="3" fill="#c40f04"/>
<rect x="628" y="428" width="2" height="18" fill="#c40f04"/>
<rect x="632" y="434" width="2" height="20" fill="#008000"/>
<rect x="632" y="434" width="4" height="20" fill="#008000"/>
<rect x="638" y="428" width="2" height="26" fill="#c40f04"/>
<rect x="638" y="434" width="4" height="14" fill="#c40f04"/>
<rect x="644" y="422" width="2" height="21" fill="#c40f04"/>
<rect x="644" y="438" width="4" height="2" fill="#c40f04"/>
<rect x="650" y="410" width="2" height="22" fill="#c40f04"/>
<rect x="648" y="416" width="4" height="14" fill="#c40f04"/>
<rect x="654" y="417" width="2" height="23" fill="#008000"/>
<rect x="654" y="419" width="4" height="21" fill="#008000"/>
<rect x="660" y="436" width="2" height="13" fill="#008000"/>
<rect x="660" y="442" width="4" height="3" fill="#008000"/>
<rect x="666" y="439" width="2" height="14" fill="#c40f04"/>
<rect x="670" y="444" width="2" height="13" fill="#008000"/>
<rect x="670" y="446" width="4" height="8" fill="#008000"/>
<rect x="676" y="405" width="2" height="49" fill="#c40f04"/>
<rect x="676" y="405" width="4" height="49" fill="#c40f04"/>
<rect x="682" y="397" width="2" height="21" fill="#008000"/>
<rect x="682" y="409" width="4" height="3" fill="#008000"/>
<rect x="688" y="401" width="2" height="17" fill="#c40f04"/>
<rect x="686" y="401" width="4" height="11" fill="#c40f04"/>
<rect x="692" y="392" width="2" height="20" fill="#c40f04"/>
<rect x="692" y="396" width="4" height="6" fill="#c40f04"/>
<rect x="698" y="390" width="2" height="20" fill="#c40f04"/>
<rect x="698" y="392" width="4" height="8" fill="#c40f04"/>
<rect x="704" y="389" width="2" height="15" fill="#008000"/>
<rect x="708" y="394" width="2" height="16" fill="#c40f04"/>
<rect x="708" y="394" width="4" height="8" fill="#c40f04"/>
<rect x="714" y="377" width="2" height="21" fill="#c40f04"/>
<rect x="714" y="382" width="4" height="12" fill="#c40f04"/>
<rect x="720" y="377" width="2" height="20" fill="#c40f04"/>
<rect x="726" y="345" width="2" height="33" fill="#c40f04"/>
<rect x="724" y="351" width="4" height="27" fill="#c40f04"/>
<rect x="730" y="300" width="2" height="36" fill="#c40f04"/>
<rect x="730" y="304" width="4" height="28" fill="#c40f04"/>
<rect x="736" y="242" width="2" height="69" fill="#008000"/>
<rect x="736" y="242" width="4" height="20" fill="#008000"/>
<rect x="742" y="260" width="2" height="44" fill="#008000"/>
<rect x="740" y="273" width="4" height="29" fill="#008000"/>
<rect x="746" y="272" width="2" height="38" fill="#c40f04"/>
<rect x="746" y="291" width="4" height="3" fill="#c40f04"/>
<rect x="752" y="288" width="2" height="52" fill="#008000"/>
<rect x="752" y="304" width="4" height="30" fill="#008000"/>
<rect x="758" y="300" width="2" height="26" fill="#c40f04"/>
<rect x="762" y="270" width="2" height="46" fill="#c40f04"/>
<rect x="762" y="288" width="4" height="18" fill="#c40f04"/>
<rect x="768" y="268" width="2" height="37" fill="#c40f04"/>
<rect x="768" y="277" width="4" height="20" fill="#c40f04"/>
<rect x="774" y="264" width="2" height="21" fill="#008000"/>
<rect x="774" y="267" width="4" height="15" fill="#008000"/>
<rect x="780" y="270" width="2" height="39" fill="#c40f04"/>
<rect x="778" y="275" width="4" height="21" fill="#c40f04"/>
<rect x="784" y="210" width="2" height="64" fill="#c40f04"/>
<rect x="784" y="210" width="4" height="64" fill="#c40f04"/>
<rect x="790" y="211" width="2" height="52" fill="#008000"/>
<rect x="790" y="211" width="4" height="45" fill="#008000"/>
<rect x="796" y="230" width="2" height="36" fill="#c40f04"/>
<rect x="800" y="258" width="2" height="19" fill="#008000"/>
<rect x="800" y="260" width="4" height="6" fill="#008000"/>
<rect x="806" y="237" width="2" height="27" fill="#c40f04"/>
<rect x="806" y="240" width="4" height="10" fill="#c40f04"/>
<rect x="812" y="225" width="2" height="29" fill="#c40f04"/>
<rect x="812" y="234" width="4" height="11" fill="#c40f04"/>
<rect x="818" y="215" width="2" height="47" fill="#008000"/>
<rect x="816" y="239" width="4" height="13" fill="#008000"/>
<rect x="822" y="240" width="2" height="26" fill="#c40f04"/>
<rect x="822" y="248" width="4" height="14" fill="#c40f04"/>
<rect x="828" y="228" width="2" height="32" fill="#c40f04"/>
<rect x="828" y="233" width="4" height="18" fill="#c40f04"/>
<rect x="834" y="234" width="2" height="53" fill="#008000"/>
<rect x="838" y="266" width="2" height="27" fill="#c40f04"/>
<rect x="838" y="273" width="4" height="20" fill="#c40f04"/>
<rect x="844" y="244" width="2" height="34" fill="#c40f04"/>
<rect x="844" y="250" width="4" height="26" fill="#c40f04"/>
<rect x="850" y="241" width="2" height="21" fill="#008000"/>
<rect x="850" y="248" width="4" height="11" fill="#008000"/>
<rect x="856" y="241" width="2" height="35" fill="#c40f04"/>
<rect x="854" y="254" width="4" height="12" fill="#c40f04"/>
<rect x="860" y="208" width="2" height="48" fill="#c40f04"/>
<rect x="860" y="231" width="4" height="25" fill="#c40f04"/>
<rect x="866" y="204" width="2" height="28" fill="#c40f04"/>
<rect x="866" y="206" width="4" height="23" fill="#c40f04"/>
<rect x="872" y="189" width="2" height="40" fill="#008000"/>
<rect x="876" y="198" width="2" height="38" fill="#008000"/>
<rect x="876" y="227" width="4" height="3" fill="#008000"/>
<rect x="882" y="225" width="2" height="36" fill="#008000"/>
<rect x="882" y="228" width="4" height="26" fill="#008000"/>
<rect x="888" y="250" width="2" height="40" fill="#008000"/>
<rect x="888" y="255" width="4" height="35" fill="#008000"/>
<rect x="894" y="272" width="2" height="37" fill="#008000"/>
<rect x="892" y="283" width="4" height="9" fill="#008000"/>
<rect x="898" y="285" width="2" height="19" fill="#c40f04"/>
<rect x="898" y="286" width="4" height="10" fill="#c40f04"/>
<rect x="904" y="269" width="2" height="21" fill="#c40f04"/>
<rect x="904" y="275" width="4" height="11" fill="#c40f04"/>
<rect x="910" y="272" width="2" height="16" fill="#008000"/>
<rect x="914" y="280" width="2" height="34" fill="#008000"/>
<rect x="914" y="282" width="4" height="32" fill="#008000"/>
<rect x="920" y="307" width="2" height="25" fill="#008000"/>
<rect x="920" y="310" width="4" height="8" fill="#008000"/>
<rect x="926" y="307" width="2" height="13" fill="#008000"/>
<rect x="932" y="290" width="2" height="41" fill="#c40f04"/>
<rect x="930" y="290" width="4" height="35" fill="#c40f04"/>
<rect x="936" y="276" width="2" height="24" fill="#008000"/>
<rect x="936" y="294" width="4" height="4" fill="#008000"/>
<rect x="942" y="282" width="2" height="27" fill="#c40f04"/>
<rect x="942" y="288" width="4" height="12" fill="#c40f04"/>
<rect x="948" y="277" width="2" height="13" fill="#c40f04"/>
<rect x="946" y="280" width="4" height="7" fill="#c40f04"/>
<rect x="952" y="265" width="2" height="27" fill="#c40f04"/>
<rect x="952" y="276" width="4" height="4" fill="#c40f04"/>
<rect x="958" y="240" width="2" height="40" fill="#c40f04"/>
<rect x="958" y="264" width="4" height="14" fill="#c40f04"/>
<rect x="964" y="246" width="2" height="20" fill="#c40f04"/>
<rect x="970" y="226" width="2" height="30" fill="#c40f04"/>
<rect x="968" y="230" width="4" height="16" fill="#c40f04"/>
<rect x="974" y="216" width="2" height="26" fill="#c40f04"/>
<rect x="974" y="232" width="4" height="8" fill="#c40f04"/>
<rect x="980" y="192" width="2" height="36" fill="#c40f04"/>
<rect x="980" y="200" width="4" height="19" fill="#c40f04"/>
<rect x="986" y="172" width="2" height="38" fill="#c40f04"/>
<rect x="984" y="176" width="4" height="22" fill="#c40f04"/>
<rect x="990" y="177" width="2" height="24" fill="#008000"/>
<rect x="990" y="181" width="4" height="15" fill="#008000"/>
<rect x="996" y="200" width="2" height="32" fill="#008000"/>
<rect x="996" y="207" width="4" height="16" fill="#008000"/>
<rect x="1002" y="224" width="2" height="16" fill="#008000"/>
<rect x="1006" y="230" width="2" height="26" fill="#008000"/>
<rect x="1006" y="237" width="4" height="15" fill="#008000"/>
<rect x="1012" y="226" width="2" height="28" fill="#c40f04"/>
<rect x="1012" y="238" width="4" height="6" fill="#c40f04"/>
<rect x="1018" y="235" width="2" height="19" fill="#c40f04"/>
<rect x="1018" y="236" width="4" height="18" fill="#c40f04"/>
<rect x="1024" y="219" width="2" height="25" fill="#c40f04"/>
<rect x="1022" y="226" width="4" height="18" fill="#c40f04"/>
<rect x="1028" y="219" width="2" height="35" fill="#008000"/>
<rect x="1028" y="225" width="4" height="27" fill="#008000"/>
<rect x="1034" y="240" width="2" height="24" fill="#008000"/>
<rect x="1034" y="243" width="4" height="10" fill="#008000"/>
<rect x="1040" y="245" width="2" height="19" fill="#c40f04"/>
<rect x="1044" y="235" width="2" height="17" fill="#c40f04"/>
<rect x="1044" y="240" width="4" height="12" fill="#c40f04"/>
<rect x="1050" y="227" width="2" height="17" fill="#008000"/>
<rect x="1050" y="236" width="4" height="4" fill="#008000"/>
<rect x="1056" y="236" width="2" height="26" fill="#008000"/>
<rect x="1056" y="239" width="4" height="9" fill="#008000"/>
<rect x="1062" y="241" width="2" height="35" fill="#008000"/>
<rect x="1060" y="244" width="4" height="32" fill="#008000"/>
<rect x="1066" y="271" width="2" height="31" fill="#008000"/>
<rect x="1066" y="272" width="4" height="26" fill="#008000"/>
<rect x="1072" y="291" width="2" height="40" fill="#008000"/>
<rect x="1072" y="292" width="4" height="38" fill="#008000"/>
<rect x="1078" y="329" width="2" height="19" fill="#008000"/>
<rect x="1082" y="324" width="2" height="14" fill="#c40f04"/>
<rect x="1082" y="324" width="4" height="4" fill="#c40f04"/>
<rect x="1088" y="314" width="2" height="29" fill="#c40f04"/>
<rect x="1088" y="318" width="4" height="8" fill="#c40f04"/>
<rect x="1094" y="308" width="2" height="17" fill="#c40f04"/>
<rect x="1094" y="313" width="4" height="11" fill="#c40f04"/>
<rect x="1100" y="292" width="2" height="27" fill="#008000"/>
<rect x="1098" y="314" width="4" height="4" fill="#008000"/>
<rect x="1104" y="300" width="2" height="48" fill="#008000"/>
<rect x="1104" y="304" width="4" height="28" fill="#008000"/>
<rect x="1110" y="305" width="2" height="29" fill="#c40f04"/>
<rect x="1110" y="307" width="4" height="23" fill="#c40f04"/>
<rect x="1116" y="303" width="2" height="11" fill="#008000"/>
<rect x="1120" y="304" width="2" height="20" fill="#008000"/>
<rect x="1120" y="308" width="4" height="14" fill="#008000"/>
<rect x="1126" y="306" width="2" height="16" fill="#c40f04"/>
<rect x="1126" y="314" width="4" height="4" fill="#c40f04"/>
<rect x="1132" y="298" width="2" height="14" fill="#c40f04"/>
<rect x="1132" y="303" width="4" height="7" fill="#c40f04"/>
<rect x="1138" y="298" width="2" height="22" fill="#008000"/>
<rect x="1136" y="304" width="4" height="8" fill="#008000"/>
<rect x="1142" y="308" width="2" height="16" fill="#008000"/>
<rect x="1142" y="313" width="4" height="7" fill="#008000"/>
<rect x="1148" y="300" width="2" height="17" fill="#c40f04"/>
<rect x="1148" y="309" width="4" height="7" fill="#c40f04"/>
<rect x="1154" y="308" width="2" height="10" fill="#008000"/>
<rect x="1152" y="308" width="4" height="9" fill="#008000"/>
<rect x="1158" y="304" width="2" height="14" fill="#008000"/>
<rect x="1158" y="312" width="4" height="5" fill="#008000"/>
<rect x="1164" y="306" width="2" height="8" fill="#008000"/>
<rect x="1164" y="308" width="4" height="5" fill="#008000"/>
<rect x="1170" y="297" width="2" height="20" fill="#c40f04"/>
<rect x="1176" y="281" width="2" height="19" fill="#c40f04"/>
<rect x="1174" y="288" width="4" height="12" fill="#c40f04"/>
<rect x="1180" y="267" width="2" height="22" fill="#c40f04"/>
<rect x="1180" y="268" width="4" height="20" fill="#c40f04"/>
<rect x="1186" y="264" width="2" height="20" fill="#008000"/>
<rect x="1186" y="270" width="4" height="2" fill="#008000"/>
<rect x="1192" y="268" width="2" height="8" fill="#c40f04"/>
<rect x="1190" y="268" width="4" height="5" fill="#c40f04"/>
<rect x="1196" y="265" width="2" height="25" fill="#008000"/>
<rect x="1196" y="267" width="4" height="23" fill="#008000"/>
<rect x="1202" y="276" width="2" height="16" fill="#c40f04"/>
<rect x="1202" y="280" width="4" height="8" fill="#c40f04"/>
<rect x="1208" y="276" width="2" height="15" fill="#008000"/>
<rect x="1212" y="286" width="2" height="22" fill="#008000"/>
<rect x="1212" y="286" width="4" height="22" fill="#008000"/>
<rect x="1218" y="292" width="2" height="16" fill="#c40f04"/>
<rect x="1218" y="292" width="4" height="16" fill="#c40f04"/>
<rect x="1224" y="284" width="2" height="14" fill="#c40f04"/>
<rect x="1224" y="285" width="4" height="7" fill="#c40f04"/>
<rect x="1230" y="275" width="2" height="19" fill="#c40f04"/>
<rect x="1228" y="280" width="4" height="7" fill="#c40f04"/>
<rect x="1234" y="270" width="2" height="18" fill="#c40f04"/>
<rect x="1234" y="276" width="4" height="6" fill="#c40f04"/>
<rect x="1240" y="276" width="2" height="12" fill="#008000"/>
<rect x="1240" y="281" width="4" height="5" fill="#008000"/>
<rect x="1246" y="276" width="2" height="13" fill="#c40f04"/>
<rect x="1250" y="278" width="2" height="28" fill="#008000"/>
<rect x="1250" y="283" width="4" height="14" fill="#008000"/>
<rect x="1256" y="296" width="2" height="24" fill="#008000"/>
<rect x="1256" y="299" width="4" height="21" fill="#008000"/>
<rect x="1262" y="308" width="2" height="16" fill="#c40f04"/>
<rect x="1262" y="316" width="4" height="7" fill="#c40f04"/>
<rect x="1268" y="282" width="2" height="40" fill="#c40f04"/>
<rect x="1266" y="282" width="4" height="40" fill="#c40f04"/>
<rect x="1272" y="276" width="2" height="14" fill="#c40f04"/>
<rect x="1272" y="280" width="4" height="8" fill="#c40f04"/>
<rect x="1278" y="261" width="2" height="17" fill="#c40f04"/>
<rect x="1278" y="265" width="4" height="13" fill="#c40f04"/>
<rect x="1284" y="256" width="2" height="18" fill="#008000"/>
<rect x="1288" y="258" width="2" height="15" fill="#c40f04"/>
<rect x="1288" y="268" width="4" height="4" fill="#c40f04"/>
<rect x="1294" y="250" width="2" height="29" fill="#c40f04"/>
<rect x="1294" y="252" width="4" height="24" fill="#c40f04"/>
<rect x="1300" y="240" width="2" height="18" fill="#008000"/>
<rect x="1300" y="252" width="4" height="6" fill="#008000"/>
<rect x="1306" y="253" width="2" height="21" fill="#008000"/>
<rect x="1304" y="255" width="4" height="9" fill="#008000"/>
<rect x="1310" y="253" width="2" height="25" fill="#c40f04"/>
<rect x="1310" y="260" width="4" height="4" fill="#c40f04"/>
<rect x="1316" y="261" width="2" height="10" fill="#008000"/>
<rect x="1316" y="261" width="4" height="10" fill="#008000"/>
<rect x="1322" y="256" width="2" height="16" fill="#008000"/>
<rect x="1326" y="265" width="2" height="11" fill="#008000"/>
<rect x="1326" y="265" width="4" height="11" fill="#008000"/>
<rect x="1332" y="257" width="2" height="23" fill="#c40f04"/>
<rect x="1332" y="268" width="4" height="10" fill="#c40f04"/>
<rect x="1338" y="254" width="2" height="21" fill="#c40f04"/>
<rect x="1338" y="266" width="4" height="8" fill="#c40f04"/>
<rect x="1344" y="264" width="2" height="48" fill="#008000"/>
<rect x="1342" y="264" width="4" height="32" fill="#008000"/>
<rect x="1348" y="274" width="2" height="24" fill="#c40f04"/>
<rect x="1348" y="283" width="4" height="13" fill="#c40f04"/>
<rect x="1354" y="272" width="2" height="20" fill="#c40f04"/>
<rect x="1354" y="283" width="4" height="7" fill="#c40f04"/>
<rect x="1360" y="254" width="2" height="50" fill="#c40f04"/>
<rect x="1364" y="262" width="2" height="26" fill="#008000"/>
<rect x="1364" y="264" width="4" height="19" fill="#008000"/>
<rect x="1370" y="286" width="2" height="30" fill="#008000"/>
<rect x="1370" y="286" width="4" height="24" fill="#008000"/>
<rect x="1376" y="247" width="2" height="57" fill="#c40f04"/>
<rect x="1382" y="288" width="2" height="34" fill="#008000"/>
<rect x="1380" y="288" width="4" height="34" fill="#008000"/>
<rect x="1386" y="320" width="2" height="26" fill="#008000"/>
<rect x="1386" y="327" width="4" height="15" fill="#008000"/>
<rect x="1392" y="366" width="2" height="34" fill="#008000"/>
<rect x="1392" y="366" width="4" height="34" fill="#008000"/>
<rect x="1398" y="394" width="2" height="39" fill="#008000"/>
<rect x="1396" y="400" width="4" height="18" fill="#008000"/>
<rect x="1402" y="389" width="2" height="51" fill="#c40f04"/>
<rect x="1402" y="395" width="4" height="29" fill="#c40f04"/>
<rect x="1408" y="375" width="2" height="19" fill="#008000"/>
<rect x="1408" y="385" width="4" height="9" fill="#008000"/>
<rect x="1414" y="369" width="2" height="33" fill="#c40f04"/>
<rect x="1418" y="364" width="2" height="16" fill="#008000"/>
<rect x="1418" y="370" width="4" height="8" fill="#008000"/>
<rect x="1424" y="376" width="2" height="14" fill="#008000"/>
<rect x="1424" y="378" width="4" height="8" fill="#008000"/>
<rect x="1430" y="382" width="2" height="22" fill="#008000"/>
<rect x="1430" y="387" width="4" height="10" fill="#008000"/>
<rect x="1436" y="387" width="2" height="15" fill="#c40f04"/>
<rect x="1434" y="394" width="4" height="6" fill="#c40f04"/>
<rect x="1440" y="390" width="2" height="12" fill="#c40f04"/>
<rect x="1440" y="391" width="4" height="4" fill="#c40f04"/>
<rect x="1446" y="382" width="2" height="14" fill="#c40f04"/>
<rect x="1446" y="382" width="4" height="10" fill="#c40f04"/>
<rect x="1452" y="381" width="2" height="8" fill="#c40f04"/>
<rect x="1456" y="377" width="2" height="9" fill="#c40f04"/>
<rect x="1456" y="380" width="4" height="2" fill="#c40f04"/>
<rect x="1462" y="378" width="2" height="16" fill="#008000"/>
<rect x="1462" y="378" width="4" height="12" fill="#008000"/>
<rect x="1468" y="384" width="2" height="8" fill="#c40f04"/>
<rect x="1468" y="388" width="4" height="3" fill="#c40f04"/>
</g>
<g shape-rendering="crispEdges" fill="#333">
<rect x="160" y="520" width="1313.5" height="2"/>
<rect x="150" y="520" width="10" height="2"/>
<rect x="150" y="440" width="10" height="2"/>
<rect x="150" y="360" width="10" height="2"/>
<rect x="150" y="280" width="10" height="2"/>
<rect x="150" y="200" width="10" height="2"/>
<rect x="150" y="120" width="10" height="2"/>
<rect x="160" y="522" width="2" height="8"/>
<rect x="333" y="522" width="2" height="8"/>
<rect x="507" y="522" width="2" height="8"/>
<rect x="680" y="522" width="2" height="8"/>
<rect x="854" y="522" width="2" height="8"/>
<rect x="1027" y="522" width="2" height="8"/>
<rect x="1201" y="522" width="2" height="8"/>
<rect x="1374" y="522" width="2" height="8"/>
<rect x="1472" y="522" width="2" height="8"/>
</g>
<text transform="translate(144.5,526.1) scale(0.915,1)" font-size="27.5" text-anchor="end" fill="#333333" stroke="#333333" stroke-width="0.8" font-weight="normal">10</text>
<text transform="translate(144.5,446.1) scale(0.915,1)" font-size="27.5" text-anchor="end" fill="#333333" stroke="#333333" stroke-width="0.8" font-weight="normal">12</text>
<text transform="translate(144.5,366.1) scale(0.915,1)" font-size="27.5" text-anchor="end" fill="#333333" stroke="#333333" stroke-width="0.8" font-weight="normal">14</text>
<text transform="translate(144.5,286.1) scale(0.915,1)" font-size="27.5" text-anchor="end" fill="#333333" stroke="#333333" stroke-width="0.8" font-weight="normal">16</text>
<text transform="translate(144.5,206.1) scale(0.915,1)" font-size="27.5" text-anchor="end" fill="#333333" stroke="#333333" stroke-width="0.8" font-weight="normal">18</text>
<text transform="translate(144.5,126.1) scale(0.915,1)" font-size="27.5" text-anchor="end" fill="#333333" stroke="#333333" stroke-width="0.8" font-weight="normal">20</text>
<text transform="translate(162.5,554) scale(0.915,1)" font-size="27.5" text-anchor="middle" fill="#333333" stroke="#333333" stroke-width="0.8" font-weight="normal" textLength="145.4" lengthAdjust="spacing">2024-04-26</text>
<text transform="translate(335.9,554) scale(0.915,1)" font-size="27.5" text-anchor="middle" fill="#333333" stroke="#333333" stroke-width="0.8" font-weight="normal" textLength="145.4" lengthAdjust="spacing">2024-06-17</text>
<text transform="translate(509.3,554) scale(0.915,1)" font-size="27.5" text-anchor="middle" fill="#333333" stroke="#333333" stroke-width="0.8" font-weight="normal" textLength="145.4" lengthAdjust="spacing">2024-07-31</text>
<text transform="translate(682.8,554) scale(0.915,1)" font-size="27.5" text-anchor="middle" fill="#333333" stroke="#333333" stroke-width="0.8" font-weight="normal" textLength="145.4" lengthAdjust="spacing">2024-09-13</text>
<text transform="translate(856.2,554) scale(0.915,1)" font-size="27.5" text-anchor="middle" fill="#333333" stroke="#333333" stroke-width="0.8" font-weight="normal" textLength="145.4" lengthAdjust="spacing">2024-11-07</text>
<text transform="translate(1029.6,554) scale(0.915,1)" font-size="27.5" text-anchor="middle" fill="#333333" stroke="#333333" stroke-width="0.8" font-weight="normal" textLength="145.4" lengthAdjust="spacing">2024-12-23</text>
<text transform="translate(1203.0,554) scale(0.915,1)" font-size="27.5" text-anchor="middle" fill="#333333" stroke="#333333" stroke-width="0.8" font-weight="normal" textLength="145.4" lengthAdjust="spacing">2025-02-14</text>
<text transform="translate(1376.5,554) scale(0.915,1)" font-size="27.5" text-anchor="middle" fill="#333333" stroke="#333333" stroke-width="0.8" font-weight="normal" textLength="145.4" lengthAdjust="spacing">2025-04-01</text>
<text transform="translate(144.5,565.8) scale(0.915,1)" font-size="27.5" text-anchor="end" fill="#333333" stroke="#333333" stroke-width="0.8" font-weight="normal">40</text>
<text transform="translate(144.5,645.8) scale(0.915,1)" font-size="27.5" text-anchor="end" fill="#333333" stroke="#333333" stroke-width="0.8" font-weight="normal">20</text>
<text transform="translate(144.5,725.8) scale(0.915,1)" font-size="27.5" text-anchor="end" fill="#333333" stroke="#333333" stroke-width="0.8" font-weight="normal">0</text>
<g shape-rendering="crispEdges">
<rect x="160" y="680" width="5" height="40" fill="#c40f04"/>
<rect x="165" y="692" width="6" height="28" fill="#c40f04"/>
<rect x="171" y="706" width="5" height="14" fill="#008000"/>
<rect x="176" y="698" width="6" height="22" fill="#008000"/>
<rect x="182" y="692" width="5" height="28" fill="#c40f04"/>
<rect x="187" y="704" width="5" height="16" fill="#008000"/>
<rect x="193" y="702" width="5" height="18" fill="#c40f04"/>
<rect x="198" y="702" width="5" height="18" fill="#008000"/>
<rect x="203" y="702" width="6" height="18" fill="#008000"/>
<rect x="209" y="709" width="5" height="11" fill="#008000"/>
<rect x="214" y="709" width="6" height="11" fill="#008000"/>
<rect x="220" y="709" width="5" height="11" fill="#008000"/>
<rect x="225" y="708" width="5" height="12" fill="#c40f04"/>
<rect x="231" y="706" width="5" height="14" fill="#c40f04"/>
<rect x="236" y="704" width="5" height="16" fill="#008000"/>
<rect x="241" y="707" width="6" height="13" fill="#c40f04"/>
<rect x="247" y="709" width="5" height="11" fill="#008000"/>
<rect x="252" y="708" width="6" height="12" fill="#008000"/>
<rect x="258" y="707" width="5" height="13" fill="#008000"/>
<rect x="263" y="710" width="5" height="10" fill="#c40f04"/>
<rect x="268" y="711" width="6" height="9" fill="#c40f04"/>
<rect x="274" y="704" width="5" height="16" fill="#c40f04"/>
<rect x="279" y="700" width="6" height="20" fill="#c40f04"/>
<rect x="285" y="706" width="5" height="14" fill="#008000"/>
<rect x="290" y="707" width="5" height="13" fill="#008000"/>
<rect x="296" y="704" width="5" height="16" fill="#c40f04"/>
<rect x="301" y="700" width="5" height="20" fill="#008000"/>
<rect x="306" y="705" width="6" height="15" fill="#008000"/>
<rect x="312" y="705" width="5" height="15" fill="#c40f04"/>
<rect x="317" y="708" width="6" height="12" fill="#c40f04"/>
<rect x="323" y="708" width="5" height="12" fill="#c40f04"/>
<rect x="328" y="709" width="5" height="11" fill="#008000"/>
<rect x="334" y="702" width="5" height="18" fill="#008000"/>
<rect x="339" y="707" width="5" height="13" fill="#c40f04"/>
<rect x="344" y="707" width="6" height="13" fill="#008000"/>
<rect x="350" y="703" width="5" height="17" fill="#008000"/>
<rect x="355" y="709" width="6" height="11" fill="#c40f04"/>
<rect x="361" y="703" width="5" height="17" fill="#008000"/>
<rect x="366" y="706" width="5" height="14" fill="#008000"/>
<rect x="371" y="710" width="6" height="10" fill="#c40f04"/>
<rect x="377" y="710" width="5" height="10" fill="#008000"/>
<rect x="382" y="705" width="6" height="15" fill="#c40f04"/>
<rect x="388" y="699" width="5" height="21" fill="#008000"/>
<rect x="393" y="698" width="5" height="22" fill="#008000"/>
<rect x="399" y="707" width="5" height="13" fill="#008000"/>
<rect x="404" y="697" width="5" height="23" fill="#008000"/>
<rect x="409" y="707" width="6" height="13" fill="#c40f04"/>
<rect x="415" y="706" width="5" height="14" fill="#008000"/>
<rect x="420" y="706" width="6" height="14" fill="#c40f04"/>
<rect x="426" y="689" width="5" height="31" fill="#c40f04"/>
<rect x="431" y="677" width="5" height="43" fill="#c40f04"/>
<rect x="437" y="644" width="5" height="76" fill="#c40f04"/>
<rect x="442" y="687" width="5" height="33" fill="#008000"/>
<rect x="447" y="700" width="6" height="20" fill="#c40f04"/>
<rect x="453" y="702" width="5" height="18" fill="#008000"/>
<rect x="458" y="704" width="6" height="16" fill="#008000"/>
<rect x="464" y="708" width="5" height="12" fill="#008000"/>
<rect x="469" y="706" width="5" height="14" fill="#c40f04"/>
<rect x="475" y="707" width="5" height="13" fill="#008000"/>
<rect x="480" y="710" width="5" height="10" fill="#c40f04"/>
<rect x="485" y="709" width="6" height="11" fill="#008000"/>
<rect x="491" y="705" width="5" height="15" fill="#c40f04"/>
<rect x="496" y="704" width="5" height="16" fill="#c40f04"/>
<rect x="502" y="701" width="5" height="19" fill="#c40f04"/>
<rect x="507" y="698" width="5" height="22" fill="#c40f04"/>
<rect x="512" y="685" width="6" height="35" fill="#c40f04"/>
<rect x="518" y="684" width="5" height="36" fill="#008000"/>
<rect x="523" y="694" width="6" height="26" fill="#008000"/>
<rect x="529" y="701" width="5" height="19" fill="#c40f04"/>
<rect x="534" y="687" width="5" height="33" fill="#c40f04"/>
<rect x="540" y="694" width="5" height="26" fill="#008000"/>
<rect x="545" y="708" width="5" height="12" fill="#008000"/>
<rect x="550" y="705" width="6" height="15" fill="#008000"/>
<rect x="556" y="712" width="5" height="8" fill="#c40f04"/>
<rect x="561" y="712" width="6" height="8" fill="#008000"/>
<rect x="567" y="707" width="5" height="13" fill="#c40f04"/>
<rect x="572" y="710" width="5" height="10" fill="#008000"/>
<rect x="578" y="706" width="5" height="14" fill="#008000"/>
<rect x="583" y="711" width="5" height="9" fill="#008000"/>
<rect x="588" y="713" width="6" height="7" fill="#c40f04"/>
<rect x="594" y="713" width="5" height="7" fill="#008000"/>
<rect x="599" y="713" width="6" height="7" fill="#008000"/>
<rect x="605" y="710" width="5" height="10" fill="#c40f04"/>
<rect x="610" y="712" width="5" height="8" fill="#008000"/>
<rect x="615" y="708" width="6" height="12" fill="#c40f04"/>
<rect x="621" y="700" width="5" height="20" fill="#c40f04"/>
<rect x="626" y="700" width="6" height="20" fill="#c40f04"/>
<rect x="632" y="708" width="5" height="12" fill="#008000"/>
<rect x="637" y="702" width="5" height="18" fill="#c40f04"/>
<rect x="643" y="692" width="5" height="28" fill="#c40f04"/>
<rect x="648" y="684" width="5" height="36" fill="#c40f04"/>
<rect x="653" y="696" width="6" height="24" fill="#008000"/>
<rect x="659" y="707" width="5" height="13" fill="#008000"/>
<rect x="664" y="711" width="6" height="9" fill="#c40f04"/>
<rect x="670" y="707" width="5" height="13" fill="#008000"/>
<rect x="675" y="682" width="5" height="38" fill="#c40f04"/>
<rect x="681" y="661" width="5" height="59" fill="#008000"/>
<rect x="686" y="679" width="5" height="41" fill="#c40f04"/>
<rect x="691" y="677" width="6" height="43" fill="#c40f04"/>
<rect x="697" y="675" width="5" height="45" fill="#c40f04"/>
<rect x="702" y="680" width="6" height="40" fill="#008000"/>
<rect x="708" y="682" width="5" height="38" fill="#c40f04"/>
<rect x="713" y="667" width="5" height="53" fill="#c40f04"/>
<rect x="718" y="681" width="6" height="39" fill="#c40f04"/>
<rect x="724" y="672" width="5" height="48" fill="#c40f04"/>
<rect x="729" y="658" width="6" height="62" fill="#c40f04"/>
<rect x="735" y="625" width="5" height="95" fill="#008000"/>
<rect x="740" y="656" width="5" height="64" fill="#008000"/>
<rect x="746" y="675" width="5" height="45" fill="#c40f04"/>
<rect x="751" y="685" width="5" height="35" fill="#008000"/>
<rect x="756" y="677" width="6" height="43" fill="#c40f04"/>
<rect x="762" y="657" width="5" height="63" fill="#c40f04"/>
<rect x="767" y="664" width="6" height="56" fill="#c40f04"/>
<rect x="773" y="657" width="5" height="63" fill="#008000"/>
<rect x="778" y="648" width="5" height="72" fill="#c40f04"/>
<rect x="784" y="610" width="5" height="110" fill="#c40f04"/>
<rect x="789" y="606" width="5" height="114" fill="#008000"/>
<rect x="794" y="646" width="6" height="74" fill="#c40f04"/>
<rect x="800" y="675" width="5" height="45" fill="#008000"/>
<rect x="805" y="663" width="6" height="57" fill="#c40f04"/>
<rect x="811" y="661" width="5" height="59" fill="#c40f04"/>
<rect x="816" y="654" width="5" height="66" fill="#008000"/>
<rect x="821" y="681" width="6" height="39" fill="#c40f04"/>
<rect x="827" y="664" width="5" height="56" fill="#c40f04"/>
<rect x="832" y="655" width="6" height="65" fill="#008000"/>
<rect x="838" y="693" width="5" height="27" fill="#c40f04"/>
<rect x="843" y="679" width="5" height="41" fill="#c40f04"/>
<rect x="849" y="679" width="5" height="41" fill="#008000"/>
<rect x="854" y="680" width="5" height="40" fill="#c40f04"/>
<rect x="859" y="643" width="6" height="77" fill="#c40f04"/>
<rect x="865" y="648" width="5" height="72" fill="#c40f04"/>
<rect x="870" y="663" width="6" height="57" fill="#008000"/>
<rect x="876" y="679" width="5" height="41" fill="#008000"/>
<rect x="881" y="687" width="5" height="33" fill="#008000"/>
<rect x="887" y="683" width="5" height="37" fill="#008000"/>
<rect x="892" y="677" width="5" height="43" fill="#008000"/>
<rect x="897" y="692" width="6" height="28" fill="#c40f04"/>
<rect x="903" y="695" width="5" height="25" fill="#c40f04"/>
<rect x="908" y="702" width="6" height="18" fill="#008000"/>
<rect x="914" y="687" width="5" height="33" fill="#008000"/>
<rect x="919" y="699" width="5" height="21" fill="#008000"/>
<rect x="924" y="703" width="6" height="17" fill="#008000"/>
<rect x="930" y="686" width="5" height="34" fill="#c40f04"/>
<rect x="935" y="694" width="6" height="26" fill="#008000"/>
<rect x="941" y="695" width="5" height="25" fill="#c40f04"/>
<rect x="946" y="700" width="5" height="20" fill="#c40f04"/>
<rect x="952" y="692" width="5" height="28" fill="#c40f04"/>
<rect x="957" y="669" width="5" height="51" fill="#c40f04"/>
<rect x="962" y="687" width="6" height="33" fill="#c40f04"/>
<rect x="968" y="667" width="5" height="53" fill="#c40f04"/>
<rect x="973" y="686" width="6" height="34" fill="#c40f04"/>
<rect x="979" y="644" width="5" height="76" fill="#c40f04"/>
<rect x="984" y="643" width="5" height="77" fill="#c40f04"/>
<rect x="990" y="653" width="5" height="67" fill="#008000"/>
<rect x="995" y="656" width="5" height="64" fill="#008000"/>
<rect x="1000" y="689" width="6" height="31" fill="#008000"/>
<rect x="1006" y="688" width="5" height="32" fill="#008000"/>
<rect x="1011" y="683" width="6" height="37" fill="#c40f04"/>
<rect x="1017" y="697" width="5" height="23" fill="#c40f04"/>
<rect x="1022" y="687" width="5" height="33" fill="#c40f04"/>
<rect x="1028" y="692" width="5" height="28" fill="#008000"/>
<rect x="1033" y="690" width="5" height="30" fill="#008000"/>
<rect x="1038" y="699" width="6" height="21" fill="#c40f04"/>
<rect x="1044" y="700" width="5" height="20" fill="#c40f04"/>
<rect x="1049" y="689" width="5" height="31" fill="#008000"/>
<rect x="1055" y="695" width="5" height="25" fill="#008000"/>
<rect x="1060" y="690" width="5" height="30" fill="#008000"/>
<rect x="1065" y="695" width="6" height="25" fill="#008000"/>
<rect x="1071" y="696" width="5" height="24" fill="#008000"/>
<rect x="1076" y="697" width="6" height="23" fill="#008000"/>
<rect x="1082" y="700" width="5" height="20" fill="#c40f04"/>
<rect x="1087" y="694" width="5" height="26" fill="#c40f04"/>
<rect x="1093" y="702" width="5" height="18" fill="#c40f04"/>
<rect x="1098" y="690" width="5" height="30" fill="#008000"/>
<rect x="1103" y="690" width="6" height="30" fill="#008000"/>
<rect x="1109" y="691" width="5" height="29" fill="#c40f04"/>
<rect x="1114" y="702" width="6" height="18" fill="#008000"/>
<rect x="1120" y="703" width="5" height="17" fill="#008000"/>
<rect x="1125" y="701" width="5" height="19" fill="#c40f04"/>
<rect x="1131" y="700" width="5" height="20" fill="#c40f04"/>
<rect x="1136" y="704" width="5" height="16" fill="#008000"/>
<rect x="1141" y="710" width="6" height="10" fill="#008000"/>
<rect x="1147" y="693" width="5" height="27" fill="#c40f04"/>
<rect x="1152" y="698" width="5" height="22" fill="#008000"/>
<rect x="1158" y="700" width="5" height="20" fill="#008000"/>
<rect x="1163" y="704" width="5" height="16" fill="#008000"/>
<rect x="1168" y="697" width="6" height="23" fill="#c40f04"/>
<rect x="1174" y="692" width="5" height="28" fill="#c40f04"/>
<rect x="1179" y="693" width="6" height="27" fill="#c40f04"/>
<rect x="1185" y="692" width="5" height="28" fill="#008000"/>
<rect x="1190" y="706" width="5" height="14" fill="#c40f04"/>
<rect x="1196" y="699" width="5" height="21" fill="#008000"/>
<rect x="1201" y="701" width="5" height="19" fill="#c40f04"/>
<rect x="1206" y="700" width="6" height="20" fill="#008000"/>
<rect x="1212" y="702" width="5" height="18" fill="#008000"/>
<rect x="1217" y="704" width="6" height="16" fill="#c40f04"/>
<rect x="1223" y="702" width="5" height="18" fill="#c40f04"/>
<rect x="1228" y="692" width="5" height="28" fill="#c40f04"/>
<rect x="1234" y="693" width="5" height="27" fill="#c40f04"/>
<rect x="1239" y="701" width="5" height="19" fill="#008000"/>
<rect x="1244" y="695" width="6" height="25" fill="#c40f04"/>
<rect x="1250" y="693" width="5" height="27" fill="#008000"/>
<rect x="1255" y="697" width="6" height="23" fill="#008000"/>
<rect x="1261" y="703" width="5" height="17" fill="#c40f04"/>
<rect x="1266" y="685" width="5" height="35" fill="#c40f04"/>
<rect x="1271" y="695" width="6" height="25" fill="#c40f04"/>
<rect x="1277" y="682" width="5" height="38" fill="#c40f04"/>
<rect x="1282" y="689" width="6" height="31" fill="#008000"/>
<rect x="1288" y="699" width="5" height="21" fill="#c40f04"/>
<rect x="1293" y="681" width="5" height="39" fill="#c40f04"/>
<rect x="1299" y="688" width="5" height="32" fill="#008000"/>
<rect x="1304" y="696" width="5" height="24" fill="#008000"/>
<rect x="1309" y="680" width="6" height="40" fill="#c40f04"/>
<rect x="1315" y="697" width="5" height="23" fill="#008000"/>
<rect x="1320" y="696" width="6" height="24" fill="#008000"/>
<rect x="1326" y="690" width="5" height="30" fill="#008000"/>
<rect x="1331" y="691" width="5" height="29" fill="#c40f04"/>
<rect x="1337" y="689" width="5" height="31" fill="#c40f04"/>
<rect x="1342" y="681" width="5" height="39" fill="#008000"/>
<rect x="1347" y="692" width="6" height="28" fill="#c40f04"/>
<rect x="1353" y="698" width="5" height="22" fill="#c40f04"/>
<rect x="1358" y="648" width="6" height="72" fill="#c40f04"/>
<rect x="1364" y="681" width="5" height="39" fill="#008000"/>
<rect x="1369" y="673" width="5" height="47" fill="#008000"/>
<rect x="1374" y="590" width="6" height="130" fill="#c40f04"/>
<rect x="1380" y="612" width="5" height="108" fill="#008000"/>
<rect x="1385" y="648" width="6" height="72" fill="#008000"/>
<rect x="1391" y="680" width="5" height="40" fill="#008000"/>
<rect x="1396" y="662" width="5" height="58" fill="#008000"/>
<rect x="1402" y="654" width="5" height="66" fill="#c40f04"/>
<rect x="1407" y="666" width="5" height="54" fill="#008000"/>
<rect x="1412" y="680" width="6" height="40" fill="#c40f04"/>
<rect x="1418" y="692" width="5" height="28" fill="#008000"/>
<rect x="1423" y="698" width="6" height="22" fill="#008000"/>
<rect x="1429" y="694" width="5" height="26" fill="#008000"/>
<rect x="1434" y="702" width="5" height="18" fill="#c40f04"/>
<rect x="1440" y="705" width="5" height="15" fill="#c40f04"/>
<rect x="1445" y="702" width="5" height="18" fill="#c40f04"/>
<rect x="1450" y="704" width="6" height="16" fill="#c40f04"/>
<rect x="1456" y="700" width="5" height="20" fill="#c40f04"/>
<rect x="1461" y="700" width="6" height="20" fill="#008000"/>
<rect x="1467" y="706" width="5" height="14" fill="#c40f04"/>
</g>
<text x="615.8" y="33.6" font-size="34.8" font-weight="bold" fill="#333333" stroke="#333333" stroke-width="1.0" textLength="111.5" lengthAdjust="spacingAndGlyphs">002935</text>
<rect x="727.5" y="20.8" width="10.5" height="4.2" fill="#333333"/>
<text x="739" y="34.5" font-size="30.3" font-weight="bold" fill="#333333" stroke="#333333" stroke-width="0.6" textLength="120.6" lengthAdjust="spacing" style="font-family:'Liberation Sans','Noto Sans CJK SC',sans-serif;">天奥电子</text>
<rect x="861.3" y="20.8" width="10.5" height="4.2" fill="#333333"/>
<text x="870.6" y="34.5" font-size="31.5" font-weight="bold" fill="#333333" stroke="#333333" stroke-width="0.6" textLength="35.2" lengthAdjust="spacingAndGlyphs" style="font-family:'Liberation Sans','Noto Sans CJK SC',sans-serif;">日</text>
<text x="904.5" y="33.6" font-size="34.8" font-weight="bold" fill="#333333" stroke="#333333" stroke-width="1.0" textLength="20.5" lengthAdjust="spacingAndGlyphs">K</text>
<text x="923.5" y="34.5" font-size="31.5" font-weight="bold" fill="#333333" stroke="#333333" stroke-width="0.6" textLength="61" lengthAdjust="spacing" style="font-family:'Liberation Sans','Noto Sans CJK SC',sans-serif;">线图</text>
<text x="105.5" y="86" font-size="19" fill="#ff0000" stroke="#ff0000" stroke-width="0.5">(</text>
<text x="111" y="85.5" font-size="18" fill="#ff0000" stroke="#ff0000" stroke-width="0.4" style="font-family:'Liberation Sans','Noto Sans CJK SC',sans-serif;">元</text>
<text x="128.5" y="86" font-size="19" fill="#ff0000" stroke="#ff0000" stroke-width="0.5">)</text>
<rect x="160" y="720" width="4" height="2" fill="#333" shape-rendering="crispEdges"/>
<rect x="163" y="720" width="1316" height="60" fill="#a7b7cc" shape-rendering="crispEdges"/>
<path d="M165.3,741.0 L170.7,736.7 L176.2,735.7 L181.6,737.4 L187.1,738.4 L192.5,735.7 L197.9,736.7 L203.4,735.6 L208.8,736.5 L214.3,739.1 L219.7,739.8 L225.2,740.7 L230.6,741.2 L236.0,740.8 L241.5,740.3 L246.9,742.4 L252.4,741.6 L257.8,742.5 L263.2,743.6 L268.7,744.9 L274.1,744.0 L279.6,744.2 L285.0,741.6 L290.4,739.8 L295.9,741.0 L301.3,743.0 L306.8,742.3 L312.2,745.8 L317.6,746.8 L323.1,744.3 L328.5,743.0 L334.0,742.1 L339.4,743.8 L344.9,744.7 L350.3,743.8 L355.7,757.6 L361.2,760.4 L366.6,760.3 L372.1,762.6 L377.5,763.9 L382.9,761.6 L388.4,763.0 L393.8,761.1 L399.3,762.0 L404.7,763.7 L410.1,764.8 L415.6,767.1 L421.0,767.2 L426.5,768.8 L431.9,767.2 L437.4,763.6 L442.8,759.0 L448.2,755.5 L453.7,757.2 L459.1,756.2 L464.6,759.0 L470.0,758.0 L475.4,758.4 L480.9,757.8 L486.3,760.8 L491.8,760.6 L497.2,760.7 L502.6,758.8 L508.1,758.9 L513.5,757.9 L519.0,756.4 L524.4,755.3 L529.8,755.6 L535.3,758.3 L540.7,757.4 L546.2,754.9 L551.6,757.7 L557.1,759.2 L562.5,760.2 L567.9,759.4 L573.4,761.0 L578.8,759.7 L584.3,760.3 L589.7,761.4 L595.1,762.6 L600.6,762.3 L606.0,762.6 L611.5,762.9 L616.9,762.6 L622.3,764.1 L627.8,761.6 L633.2,761.3 L638.7,760.7 L644.1,762.4 L649.5,761.5 L655.0,760.3 L660.4,759.0 L665.9,761.7 L671.3,762.0 L676.8,762.2 L682.2,763.2 L687.6,757.8 L693.1,758.2 L698.5,757.0 L704.0,756.9 L709.4,755.9 L714.8,757.1 L720.3,756.1 L725.7,754.7 L731.2,754.2 L736.6,748.9 L742.0,738.4 L747.5,742.0 L752.9,744.5 L758.4,745.6 L763.8,748.0 L769.3,745.8 L774.7,744.8 L780.1,741.3 L785.6,744.7 L791.0,742.1 L796.5,734.7 L801.9,740.0 L807.3,740.4 L812.8,739.3 L818.2,738.7 L823.7,738.0 L829.1,740.8 L834.5,739.4 L840.0,737.5 L845.4,744.3 L850.9,742.3 L856.3,739.0 L861.7,741.2 L867.2,740.0 L872.6,736.8 L878.1,734.1 L883.5,736.6 L889.0,736.7 L894.4,739.9 L899.8,743.1 L905.3,744.7 L910.7,743.6 L916.2,742.2 L921.6,743.0 L927.0,746.3 L932.5,747.2 L937.9,748.0 L943.4,744.5 L948.8,745.2 L954.2,743.6 L959.7,742.9 L965.1,742.6 L970.6,740.9 L976.0,738.8 L981.5,738.1 L986.9,735.7 L992.3,733.2 L997.8,731.2 L1003.2,734.3 L1008.7,736.4 L1014.1,737.8 L1019.5,738.6 L1025.0,739.7 L1030.4,738.7 L1035.9,736.4 L1041.3,738.5 L1046.7,739.6 L1052.2,739.5 L1057.6,737.7 L1063.1,738.0 L1068.5,738.5 L1073.9,741.9 L1079.4,744.3 L1084.8,748.6 L1090.3,748.5 L1095.7,748.1 L1101.2,747.9 L1106.6,746.8 L1112.0,745.5 L1117.5,748.6 L1122.9,745.9 L1128.4,746.1 L1133.8,747.2 L1139.2,746.4 L1144.7,745.5 L1150.1,746.6 L1155.6,747.1 L1161.0,746.1 L1166.4,746.5 L1171.9,746.1 L1177.3,746.6 L1182.8,745.1 L1188.2,743.8 L1193.6,741.6 L1199.1,742.0 L1204.5,741.3 L1210.0,743.7 L1215.4,742.9 L1220.9,743.4 L1226.3,746.1 L1231.7,744.1 L1237.2,743.6 L1242.6,743.0 L1248.1,742.9 L1253.5,743.4 L1258.9,743.1 L1264.4,745.0 L1269.8,747.8 L1275.3,747.7 L1280.7,743.7 L1286.1,742.6 L1291.6,741.0 L1297.0,741.9 L1302.5,742.3 L1307.9,739.6 L1313.4,739.9 L1318.8,741.0 L1324.2,740.6 L1329.7,741.7 L1335.1,741.0 L1340.6,742.5 L1346.0,742.0 L1351.4,741.0 L1356.9,744.6 L1362.3,744.0 L1367.8,743.1 L1373.2,740.9 L1378.6,743.6 L1384.1,745.4 L1389.5,743.7 L1395.0,748.3 L1400.4,752.9 L1405.8,756.7 L1411.3,759.5 L1416.7,755.0 L1422.2,756.1 L1427.6,753.2 L1433.1,754.2 L1438.5,755.3 L1443.9,756.9 L1449.4,756.2 L1454.8,755.9 L1460.3,754.8 L1465.7,754.8 L1471.1,754.2 L1476.6,755.7 L1476.6,780 L165.3,780 Z" fill="#9aaac1"/>
<path d="M165.3,741.0 L170.7,736.7 L176.2,735.7 L181.6,737.4 L187.1,738.4 L192.5,735.7 L197.9,736.7 L203.4,735.6 L208.8,736.5 L214.3,739.1 L219.7,739.8 L225.2,740.7 L230.6,741.2 L236.0,740.8 L241.5,740.3 L246.9,742.4 L252.4,741.6 L257.8,742.5 L263.2,743.6 L268.7,744.9 L274.1,744.0 L279.6,744.2 L285.0,741.6 L290.4,739.8 L295.9,741.0 L301.3,743.0 L306.8,742.3 L312.2,745.8 L317.6,746.8 L323.1,744.3 L328.5,743.0 L334.0,742.1 L339.4,743.8 L344.9,744.7 L350.3,743.8 L355.7,757.6 L361.2,760.4 L366.6,760.3 L372.1,762.6 L377.5,763.9 L382.9,761.6 L388.4,763.0 L393.8,761.1 L399.3,762.0 L404.7,763.7 L410.1,764.8 L415.6,767.1 L421.0,767.2 L426.5,768.8 L431.9,767.2 L437.4,763.6 L442.8,759.0 L448.2,755.5 L453.7,757.2 L459.1,756.2 L464.6,759.0 L470.0,758.0 L475.4,758.4 L480.9,757.8 L486.3,760.8 L491.8,760.6 L497.2,760.7 L502.6,758.8 L508.1,758.9 L513.5,757.9 L519.0,756.4 L524.4,755.3 L529.8,755.6 L535.3,758.3 L540.7,757.4 L546.2,754.9 L551.6,757.7 L557.1,759.2 L562.5,760.2 L567.9,759.4 L573.4,761.0 L578.8,759.7 L584.3,760.3 L589.7,761.4 L595.1,762.6 L600.6,762.3 L606.0,762.6 L611.5,762.9 L616.9,762.6 L622.3,764.1 L627.8,761.6 L633.2,761.3 L638.7,760.7 L644.1,762.4 L649.5,761.5 L655.0,760.3 L660.4,759.0 L665.9,761.7 L671.3,762.0 L676.8,762.2 L682.2,763.2 L687.6,757.8 L693.1,758.2 L698.5,757.0 L704.0,756.9 L709.4,755.9 L714.8,757.1 L720.3,756.1 L725.7,754.7 L731.2,754.2 L736.6,748.9 L742.0,738.4 L747.5,742.0 L752.9,744.5 L758.4,745.6 L763.8,748.0 L769.3,745.8 L774.7,744.8 L780.1,741.3 L785.6,744.7 L791.0,742.1 L796.5,734.7 L801.9,740.0 L807.3,740.4 L812.8,739.3 L818.2,738.7 L823.7,738.0 L829.1,740.8 L834.5,739.4 L840.0,737.5 L845.4,744.3 L850.9,742.3 L856.3,739.0 L861.7,741.2 L867.2,740.0 L872.6,736.8 L878.1,734.1 L883.5,736.6 L889.0,736.7 L894.4,739.9 L899.8,743.1 L905.3,744.7 L910.7,743.6 L916.2,742.2 L921.6,743.0 L927.0,746.3 L932.5,747.2 L937.9,748.0 L943.4,744.5 L948.8,745.2 L954.2,743.6 L959.7,742.9 L965.1,742.6 L970.6,740.9 L976.0,738.8 L981.5,738.1 L986.9,735.7 L992.3,733.2 L997.8,731.2 L1003.2,734.3 L1008.7,736.4 L1014.1,737.8 L1019.5,738.6 L1025.0,739.7 L1030.4,738.7 L1035.9,736.4 L1041.3,738.5 L1046.7,739.6 L1052.2,739.5 L1057.6,737.7 L1063.1,738.0 L1068.5,738.5 L1073.9,741.9 L1079.4,744.3 L1084.8,748.6 L1090.3,748.5 L1095.7,748.1 L1101.2,747.9 L1106.6,746.8 L1112.0,745.5 L1117.5,748.6 L1122.9,745.9 L1128.4,746.1 L1133.8,747.2 L1139.2,746.4 L1144.7,745.5 L1150.1,746.6 L1155.6,747.1 L1161.0,746.1 L1166.4,746.5 L1171.9,746.1 L1177.3,746.6 L1182.8,745.1 L1188.2,743.8 L1193.6,741.6 L1199.1,742.0 L1204.5,741.3 L1210.0,743.7 L1215.4,742.9 L1220.9,743.4 L1226.3,746.1 L1231.7,744.1 L1237.2,743.6 L1242.6,743.0 L1248.1,742.9 L1253.5,743.4 L1258.9,743.1 L1264.4,745.0 L1269.8,747.8 L1275.3,747.7 L1280.7,743.7 L1286.1,742.6 L1291.6,741.0 L1297.0,741.9 L1302.5,742.3 L1307.9,739.6 L1313.4,739.9 L1318.8,741.0 L1324.2,740.6 L1329.7,741.7 L1335.1,741.0 L1340.6,742.5 L1346.0,742.0 L1351.4,741.0 L1356.9,744.6 L1362.3,744.0 L1367.8,743.1 L1373.2,740.9 L1378.6,743.6 L1384.1,745.4 L1389.5,743.7 L1395.0,748.3 L1400.4,752.9 L1405.8,756.7 L1411.3,759.5 L1416.7,755.0 L1422.2,756.1 L1427.6,753.2 L1433.1,754.2 L1438.5,755.3 L1443.9,756.9 L1449.4,756.2 L1454.8,755.9 L1460.3,754.8 L1465.7,754.8 L1471.1,754.2 L1476.6,755.7" fill="none" stroke="#8496ae" stroke-width="1.2"/>
<g clip-path="url(#zin)" opacity="0.6">
<rect x="459" y="762" width="50" height="28" rx="5" ry="5" fill="#c40f04"/>
<text x="519.5" y="782" font-size="24" fill="#333" style="font-family:'Liberation Sans','Noto Sans CJK SC',sans-serif;">日</text>
<text transform="translate(541.5,782) scale(0.915,1)" font-size="27.5" fill="#333">K</text>
<rect x="579" y="775" width="50" height="2.5" fill="#c23531"/>
<circle cx="604" cy="776" r="11" fill="#c23531"/>
<text transform="translate(640,782) scale(0.915,1)" font-size="27.5" fill="#333">MA5</text>
<rect x="714" y="775" width="50" height="2.5" fill="#2f4554"/>
<circle cx="739" cy="776" r="11" fill="#2f4554"/>
<text transform="translate(775,782) scale(0.915,1)" font-size="27.5" fill="#333">MA10</text>
<rect x="863" y="775" width="50" height="2.5" fill="#61a0a8"/>
<circle cx="888" cy="776" r="11" fill="#61a0a8"/>
<text transform="translate(925,782) scale(0.915,1)" font-size="27.5" fill="#333">MA20</text>
<rect x="1013" y="775" width="50" height="2.5" fill="#d48265"/>
<circle cx="1038" cy="776" r="11" fill="#d48265"/>
<text transform="translate(1074,782) scale(0.915,1)" font-size="27.5" fill="#333">MA30</text>
</g>
<g clip-path="url(#zout)" opacity="1">
<rect x="459" y="762" width="50" height="28" rx="5" ry="5" fill="#c40f04"/>
<text x="519.5" y="782" font-size="24" fill="#333" style="font-family:'Liberation Sans','Noto Sans CJK SC',sans-serif;">日</text>
<text transform="translate(541.5,782) scale(0.915,1)" font-size="27.5" fill="#333">K</text>
<rect x="579" y="775" width="50" height="2.5" fill="#c23531"/>
<circle cx="604" cy="776" r="11" fill="#c23531"/>
<text transform="translate(640,782) scale(0.915,1)" font-size="27.5" fill="#333">MA5</text>
<rect x="714" y="775" width="50" height="2.5" fill="#2f4554"/>
<circle cx="739" cy="776" r="11" fill="#2f4554"/>
<text transform="translate(775,782) scale(0.915,1)" font-size="27.5" fill="#333">MA10</text>
<rect x="863" y="775" width="50" height="2.5" fill="#61a0a8"/>
<circle cx="888" cy="776" r="11" fill="#61a0a8"/>
<text transform="translate(925,782) scale(0.915,1)" font-size="27.5" fill="#333">MA20</text>
<rect x="1013" y="775" width="50" height="2.5" fill="#d48265"/>
<circle cx="1038" cy="776" r="11" fill="#d48265"/>
<text transform="translate(1074,782) scale(0.915,1)" font-size="27.5" fill="#333">MA30</text>
</g>
<g shape-rendering="crispEdges">
<rect x="163" y="720" width="1316" height="2" fill="#dddddd"/>
<rect x="163" y="778" width="1316" height="2" fill="#dddddd"/>
<rect x="166" y="722" width="1" height="56" fill="#dde2ea"/>
<rect x="1475" y="722" width="1" height="56" fill="#dde2ea"/>
<rect x="163" y="722" width="3" height="56" fill="#a7b7cc"/>
<rect x="1476" y="722" width="3" height="56" fill="#a7b7cc"/>
<rect x="157" y="737" width="15" height="26" fill="#a7b7cc"/>
<rect x="1470" y="737" width="15" height="26" fill="#a7b7cc"/>
<rect x="161" y="744.5" width="4.4" height="1.8" fill="#0a0a0a"/>
<rect x="165.4" y="744.5" width="1.8" height="1.8" fill="#f0f0f0"/>
<rect x="1476.7" y="744.5" width="4.4" height="1.8" fill="#0a0a0a"/>
<rect x="1475" y="744.5" width="1.7" height="1.8" fill="#f0f0f0"/>
<rect x="161" y="753.5" width="4.4" height="1.8" fill="#0a0a0a"/>
<rect x="165.4" y="753.5" width="1.8" height="1.8" fill="#f0f0f0"/>
<rect x="1476.7" y="753.5" width="4.4" height="1.8" fill="#0a0a0a"/>
<rect x="1475" y="753.5" width="1.7" height="1.8" fill="#f0f0f0"/>
</g>
</svg></body></html>
